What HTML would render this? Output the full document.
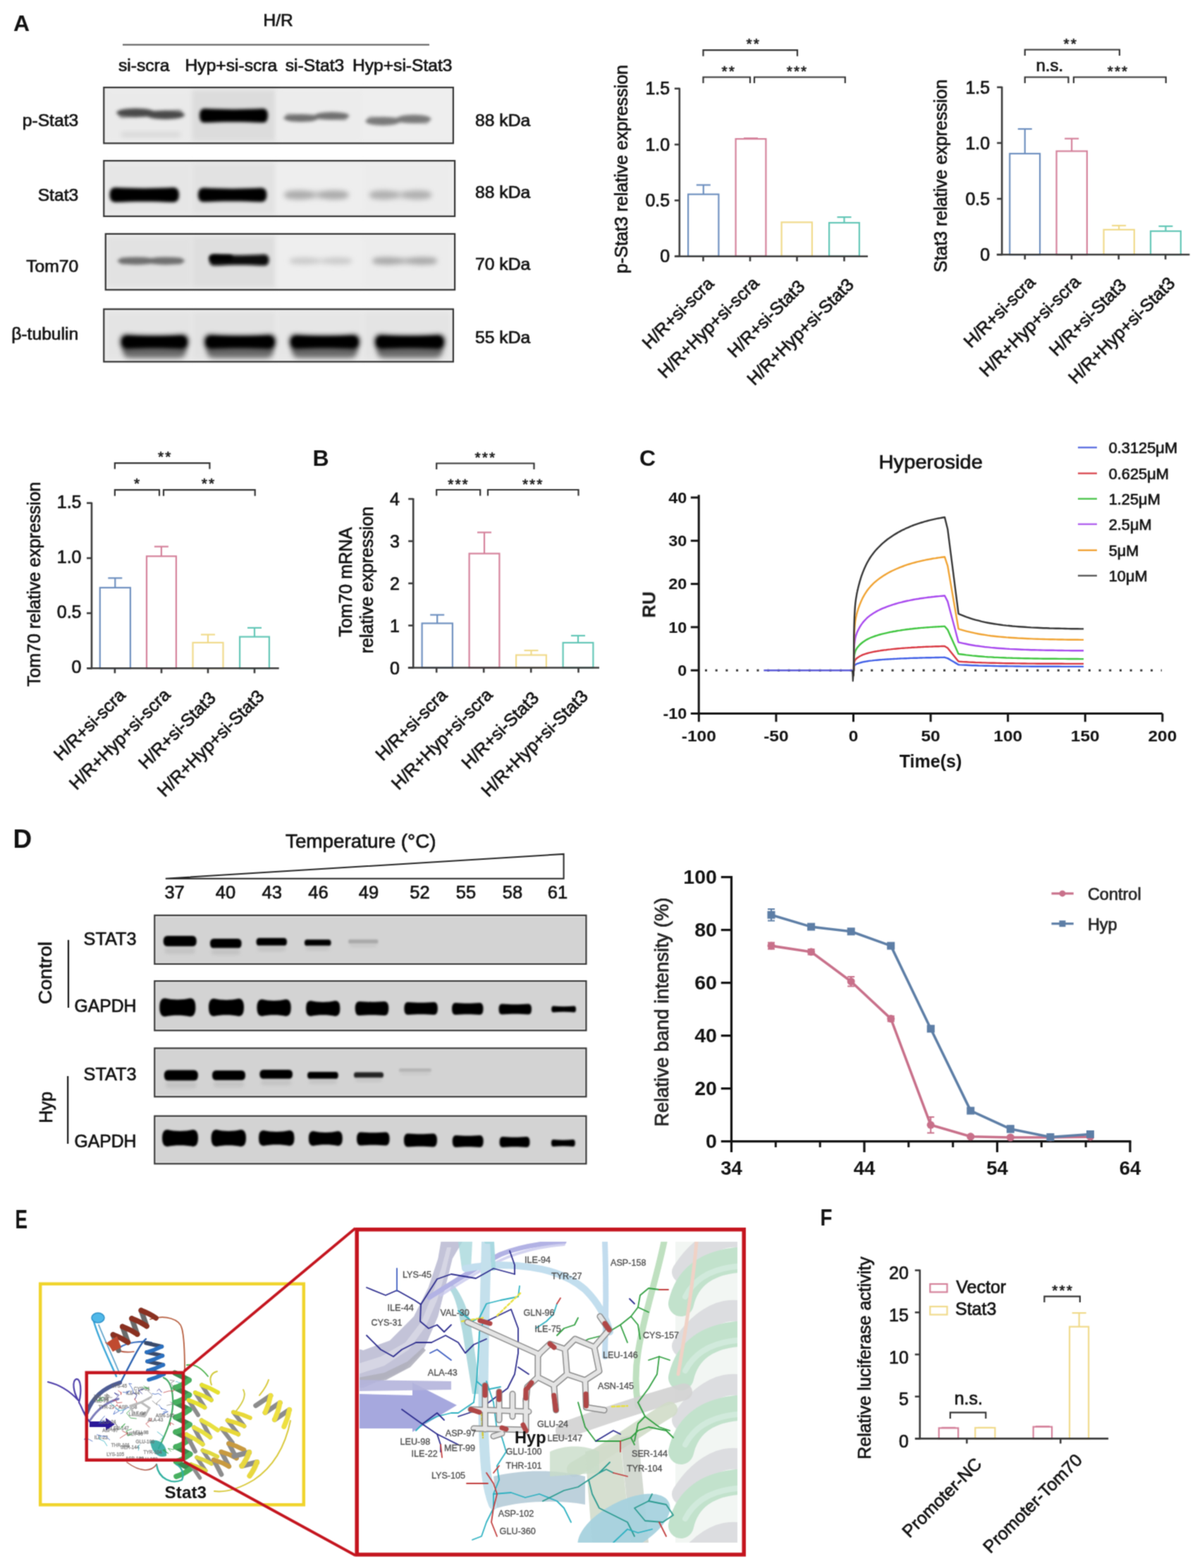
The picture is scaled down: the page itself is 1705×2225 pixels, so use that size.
<!DOCTYPE html>
<html><head><meta charset="utf-8"><title>Figure</title>
<style>
html,body{margin:0;padding:0;background:#fff;}
svg{display:block;}
text{font-family:"Liberation Sans", Arial, sans-serif;}
</style></head><body>
<svg width="1705" height="2225" viewBox="0 0 1705 2225">
<defs>
<filter id="soft" x="0" y="0" width="1705" height="2225" filterUnits="userSpaceOnUse" color-interpolation-filters="sRGB"><feConvolveMatrix order="3" kernelMatrix="0.04 0.12 0.04 0.12 0.36 0.12 0.04 0.12 0.04" edgeMode="duplicate"/></filter>
<filter id="b1" x="-20%" y="-50%" width="140%" height="200%"><feGaussianBlur stdDeviation="1.2"/></filter>
<filter id="b2" x="-20%" y="-60%" width="140%" height="220%"><feGaussianBlur stdDeviation="2.2"/></filter>
<filter id="b3" x="-20%" y="-80%" width="140%" height="260%"><feGaussianBlur stdDeviation="3.5"/></filter>
<filter id="b6" x="-30%" y="-80%" width="160%" height="260%"><feGaussianBlur stdDeviation="6"/></filter>
</defs>
<rect width="1705" height="2225" fill="#fff"/>
<g filter="url(#soft)">
<line x1="997.8" y1="275.7" x2="997.8" y2="262.5" stroke="#6d8fbf" stroke-width="2.2"/>
<line x1="987.8" y1="262.5" x2="1007.8" y2="262.5" stroke="#6d8fbf" stroke-width="2.2"/>
<rect x="976.1" y="275.7" width="43.3" height="88.1" fill="none" stroke="#6d8fbf" stroke-width="2.2"/>
<line x1="1065.0" y1="197.1" x2="1065.0" y2="196.2" stroke="#d4809a" stroke-width="2.2"/>
<line x1="1055.0" y1="196.2" x2="1075.0" y2="196.2" stroke="#d4809a" stroke-width="2.2"/>
<rect x="1043.6" y="197.1" width="42.8" height="166.6" fill="none" stroke="#d4809a" stroke-width="2.2"/>
<rect x="1108.6" y="315.4" width="43.3" height="48.4" fill="none" stroke="#f0da8a" stroke-width="2.2"/>
<line x1="1197.5" y1="316.1" x2="1197.5" y2="308.1" stroke="#62c6b6" stroke-width="2.2"/>
<line x1="1187.5" y1="308.1" x2="1207.5" y2="308.1" stroke="#62c6b6" stroke-width="2.2"/>
<rect x="1176.1" y="316.1" width="42.8" height="47.6" fill="none" stroke="#62c6b6" stroke-width="2.2"/>
<line x1="963.8" y1="124.7" x2="963.8" y2="364.8" stroke="#3a3a3a" stroke-width="2.6"/>
<line x1="957.5" y1="363.8" x2="1231.0" y2="363.8" stroke="#3a3a3a" stroke-width="2.6"/>
<line x1="956.8" y1="363.8" x2="963.8" y2="363.8" stroke="#3a3a3a" stroke-width="2.6"/>
<text x="950.2" y="372.2" font-size="25" text-anchor="end" fill="#111" stroke="#111" stroke-width="0.7">0</text>
<line x1="956.8" y1="284.4" x2="963.8" y2="284.4" stroke="#3a3a3a" stroke-width="2.6"/>
<text x="950.2" y="292.9" font-size="25" text-anchor="end" fill="#111" stroke="#111" stroke-width="0.7">0.5</text>
<line x1="956.8" y1="205.1" x2="963.8" y2="205.1" stroke="#3a3a3a" stroke-width="2.6"/>
<text x="950.2" y="213.6" font-size="25" text-anchor="end" fill="#111" stroke="#111" stroke-width="0.7">1.0</text>
<line x1="956.8" y1="125.7" x2="963.8" y2="125.7" stroke="#3a3a3a" stroke-width="2.6"/>
<text x="950.2" y="134.2" font-size="25" text-anchor="end" fill="#111" stroke="#111" stroke-width="0.7">1.5</text>
<line x1="997.5" y1="363.8" x2="997.5" y2="370.8" stroke="#3a3a3a" stroke-width="2.6"/>
<line x1="1064.0" y1="363.8" x2="1064.0" y2="370.8" stroke="#3a3a3a" stroke-width="2.6"/>
<line x1="1130.5" y1="363.8" x2="1130.5" y2="370.8" stroke="#3a3a3a" stroke-width="2.6"/>
<line x1="1197.5" y1="363.8" x2="1197.5" y2="370.8" stroke="#3a3a3a" stroke-width="2.6"/>
<polyline points="997.5,79.8 997.5,71.2 1131.0,71.2 1131.0,79.8" fill="none" stroke="#333" stroke-width="2.2"/>
<text x="1068.8" y="69.0" font-size="21" text-anchor="middle" fill="#222" stroke="#222" stroke-width="0.7" letter-spacing="2">**</text>
<polyline points="997.5,118.0 997.5,109.5 1064.0,109.5 1064.0,118.0" fill="none" stroke="#333" stroke-width="2.2"/>
<text x="1033.8" y="107.5" font-size="21" text-anchor="middle" fill="#222" stroke="#222" stroke-width="0.7" letter-spacing="2">**</text>
<polyline points="1070.0,118.0 1070.0,109.5 1198.8,109.5 1198.8,118.0" fill="none" stroke="#333" stroke-width="2.2"/>
<text x="1131.0" y="107.5" font-size="21" text-anchor="middle" fill="#222" stroke="#222" stroke-width="0.7" letter-spacing="2">***</text>
<text x="890.0" y="240.0" font-size="25" text-anchor="middle" fill="#111" stroke="#111" stroke-width="0.7" transform="rotate(-90 890.0 240.0)">p-Stat3 relative expression</text>
<text x="1014.0" y="404.0" font-size="25" text-anchor="end" fill="#111" stroke="#111" stroke-width="0.7" transform="rotate(-45 1014.0 404.0)">H/R+si-scra</text>
<text x="1078.0" y="403.5" font-size="25" text-anchor="end" fill="#111" stroke="#111" stroke-width="0.7" transform="rotate(-45 1078.0 403.5)">H/R+Hyp+si-scra</text>
<text x="1143.0" y="408.0" font-size="25" text-anchor="end" fill="#111" stroke="#111" stroke-width="0.7" transform="rotate(-45 1143.0 408.0)">H/R+si-Stat3</text>
<text x="1212.5" y="405.5" font-size="25" text-anchor="end" fill="#111" stroke="#111" stroke-width="0.7" transform="rotate(-45 1212.5 405.5)">H/R+Hyp+si-Stat3</text>
<line x1="1453.8" y1="218.0" x2="1453.8" y2="183.0" stroke="#6d8fbf" stroke-width="2.2"/>
<line x1="1443.8" y1="183.0" x2="1463.8" y2="183.0" stroke="#6d8fbf" stroke-width="2.2"/>
<rect x="1432.3" y="218.0" width="42.8" height="143.3" fill="none" stroke="#6d8fbf" stroke-width="2.2"/>
<line x1="1520.2" y1="214.5" x2="1520.2" y2="196.7" stroke="#d4809a" stroke-width="2.2"/>
<line x1="1510.2" y1="196.7" x2="1530.2" y2="196.7" stroke="#d4809a" stroke-width="2.2"/>
<rect x="1498.6" y="214.5" width="43.3" height="146.8" fill="none" stroke="#d4809a" stroke-width="2.2"/>
<line x1="1587.2" y1="325.9" x2="1587.2" y2="320.1" stroke="#f0da8a" stroke-width="2.2"/>
<line x1="1577.2" y1="320.1" x2="1597.2" y2="320.1" stroke="#f0da8a" stroke-width="2.2"/>
<rect x="1565.6" y="325.9" width="43.3" height="35.3" fill="none" stroke="#f0da8a" stroke-width="2.2"/>
<line x1="1653.5" y1="328.0" x2="1653.5" y2="321.0" stroke="#62c6b6" stroke-width="2.2"/>
<line x1="1643.5" y1="321.0" x2="1663.5" y2="321.0" stroke="#62c6b6" stroke-width="2.2"/>
<rect x="1632.1" y="328.0" width="42.8" height="33.2" fill="none" stroke="#62c6b6" stroke-width="2.2"/>
<line x1="1421.2" y1="122.8" x2="1421.2" y2="362.2" stroke="#3a3a3a" stroke-width="2.6"/>
<line x1="1413.8" y1="361.2" x2="1687.5" y2="361.2" stroke="#3a3a3a" stroke-width="2.6"/>
<line x1="1414.2" y1="361.2" x2="1421.2" y2="361.2" stroke="#3a3a3a" stroke-width="2.6"/>
<text x="1404.2" y="370.2" font-size="25" text-anchor="end" fill="#111" stroke="#111" stroke-width="0.7">0</text>
<line x1="1414.2" y1="282.1" x2="1421.2" y2="282.1" stroke="#3a3a3a" stroke-width="2.6"/>
<text x="1404.2" y="291.1" font-size="25" text-anchor="end" fill="#111" stroke="#111" stroke-width="0.7">0.5</text>
<line x1="1414.2" y1="202.9" x2="1421.2" y2="202.9" stroke="#3a3a3a" stroke-width="2.6"/>
<text x="1404.2" y="211.9" font-size="25" text-anchor="end" fill="#111" stroke="#111" stroke-width="0.7">1.0</text>
<line x1="1414.2" y1="123.8" x2="1421.2" y2="123.8" stroke="#3a3a3a" stroke-width="2.6"/>
<text x="1404.2" y="132.8" font-size="25" text-anchor="end" fill="#111" stroke="#111" stroke-width="0.7">1.5</text>
<line x1="1453.8" y1="361.2" x2="1453.8" y2="368.2" stroke="#3a3a3a" stroke-width="2.6"/>
<line x1="1520.0" y1="361.2" x2="1520.0" y2="368.2" stroke="#3a3a3a" stroke-width="2.6"/>
<line x1="1586.8" y1="361.2" x2="1586.8" y2="368.2" stroke="#3a3a3a" stroke-width="2.6"/>
<line x1="1653.2" y1="361.2" x2="1653.2" y2="368.2" stroke="#3a3a3a" stroke-width="2.6"/>
<polyline points="1453.8,79.0 1453.8,70.5 1588.0,70.5 1588.0,79.0" fill="none" stroke="#333" stroke-width="2.2"/>
<text x="1518.8" y="69.0" font-size="21" text-anchor="middle" fill="#222" stroke="#222" stroke-width="0.7" letter-spacing="2">**</text>
<polyline points="1453.8,118.0 1453.8,109.5 1515.5,109.5 1515.5,118.0" fill="none" stroke="#333" stroke-width="2.2"/>
<text x="1488.8" y="101.0" font-size="24" text-anchor="middle" fill="#111" stroke="#111" stroke-width="0.7">n.s.</text>
<polyline points="1523.0,118.0 1523.0,109.5 1653.8,109.5 1653.8,118.0" fill="none" stroke="#333" stroke-width="2.2"/>
<text x="1586.0" y="107.5" font-size="21" text-anchor="middle" fill="#222" stroke="#222" stroke-width="0.7" letter-spacing="2">***</text>
<text x="1342.5" y="249.5" font-size="25" text-anchor="middle" fill="#111" stroke="#111" stroke-width="0.7" transform="rotate(-90 1342.5 249.5)">Stat3 relative expression</text>
<text x="1470.2" y="402.0" font-size="25" text-anchor="end" fill="#111" stroke="#111" stroke-width="0.7" transform="rotate(-45 1470.2 402.0)">H/R+si-scra</text>
<text x="1534.0" y="401.5" font-size="25" text-anchor="end" fill="#111" stroke="#111" stroke-width="0.7" transform="rotate(-45 1534.0 401.5)">H/R+Hyp+si-scra</text>
<text x="1599.2" y="406.0" font-size="25" text-anchor="end" fill="#111" stroke="#111" stroke-width="0.7" transform="rotate(-45 1599.2 406.0)">H/R+si-Stat3</text>
<text x="1668.2" y="403.5" font-size="25" text-anchor="end" fill="#111" stroke="#111" stroke-width="0.7" transform="rotate(-45 1668.2 403.5)">H/R+Hyp+si-Stat3</text>
<line x1="163.3" y1="833.9" x2="163.3" y2="820.3" stroke="#6d8fbf" stroke-width="2.2"/>
<line x1="153.3" y1="820.3" x2="173.3" y2="820.3" stroke="#6d8fbf" stroke-width="2.2"/>
<rect x="141.8" y="833.9" width="43.1" height="114.4" fill="none" stroke="#6d8fbf" stroke-width="2.2"/>
<line x1="228.9" y1="789.3" x2="228.9" y2="775.6" stroke="#d4809a" stroke-width="2.2"/>
<line x1="218.9" y1="775.6" x2="238.9" y2="775.6" stroke="#d4809a" stroke-width="2.2"/>
<rect x="208.0" y="789.3" width="41.9" height="159.0" fill="none" stroke="#d4809a" stroke-width="2.2"/>
<line x1="295.0" y1="911.9" x2="295.0" y2="900.5" stroke="#f0da8a" stroke-width="2.2"/>
<line x1="285.0" y1="900.5" x2="305.0" y2="900.5" stroke="#f0da8a" stroke-width="2.2"/>
<rect x="273.5" y="911.9" width="43.0" height="36.4" fill="none" stroke="#f0da8a" stroke-width="2.2"/>
<line x1="361.0" y1="903.6" x2="361.0" y2="890.9" stroke="#62c6b6" stroke-width="2.2"/>
<line x1="351.0" y1="890.9" x2="371.0" y2="890.9" stroke="#62c6b6" stroke-width="2.2"/>
<rect x="340.1" y="903.6" width="41.8" height="44.7" fill="none" stroke="#62c6b6" stroke-width="2.2"/>
<line x1="130.0" y1="712.8" x2="130.0" y2="949.3" stroke="#3a3a3a" stroke-width="2.6"/>
<line x1="124.3" y1="948.3" x2="395.7" y2="948.3" stroke="#3a3a3a" stroke-width="2.6"/>
<line x1="123.0" y1="948.3" x2="130.0" y2="948.3" stroke="#3a3a3a" stroke-width="2.6"/>
<text x="115.5" y="955.3" font-size="25" text-anchor="end" fill="#111" stroke="#111" stroke-width="0.7">0</text>
<line x1="123.0" y1="870.1" x2="130.0" y2="870.1" stroke="#3a3a3a" stroke-width="2.6"/>
<text x="115.5" y="877.1" font-size="25" text-anchor="end" fill="#111" stroke="#111" stroke-width="0.7">0.5</text>
<line x1="123.0" y1="792.0" x2="130.0" y2="792.0" stroke="#3a3a3a" stroke-width="2.6"/>
<text x="115.5" y="799.0" font-size="25" text-anchor="end" fill="#111" stroke="#111" stroke-width="0.7">1.0</text>
<line x1="123.0" y1="713.8" x2="130.0" y2="713.8" stroke="#3a3a3a" stroke-width="2.6"/>
<text x="115.5" y="720.8" font-size="25" text-anchor="end" fill="#111" stroke="#111" stroke-width="0.7">1.5</text>
<line x1="162.9" y1="948.3" x2="162.9" y2="955.3" stroke="#3a3a3a" stroke-width="2.6"/>
<line x1="229.0" y1="948.3" x2="229.0" y2="955.3" stroke="#3a3a3a" stroke-width="2.6"/>
<line x1="295.0" y1="948.3" x2="295.0" y2="955.3" stroke="#3a3a3a" stroke-width="2.6"/>
<line x1="361.0" y1="948.3" x2="361.0" y2="955.3" stroke="#3a3a3a" stroke-width="2.6"/>
<polyline points="162.9,665.6 162.9,657.1 297.4,657.1 297.4,665.6" fill="none" stroke="#333" stroke-width="2.2"/>
<text x="234.3" y="655.0" font-size="21" text-anchor="middle" fill="#222" stroke="#222" stroke-width="0.7" letter-spacing="2">**</text>
<polyline points="162.9,703.7 162.9,695.2 226.0,695.2 226.0,703.7" fill="none" stroke="#333" stroke-width="2.2"/>
<text x="195.0" y="693.0" font-size="21" text-anchor="middle" fill="#222" stroke="#222" stroke-width="0.7" letter-spacing="2">*</text>
<polyline points="232.0,703.7 232.0,695.2 361.7,695.2 361.7,703.7" fill="none" stroke="#333" stroke-width="2.2"/>
<text x="296.0" y="693.0" font-size="21" text-anchor="middle" fill="#222" stroke="#222" stroke-width="0.7" letter-spacing="2">**</text>
<text x="57.0" y="829.0" font-size="25" text-anchor="middle" fill="#111" stroke="#111" stroke-width="0.7" transform="rotate(-90 57.0 829.0)">Tom70 relative expression</text>
<text x="179.4" y="988.0" font-size="25" text-anchor="end" fill="#111" stroke="#111" stroke-width="0.7" transform="rotate(-45 179.4 988.0)">H/R+si-scra</text>
<text x="243.0" y="987.5" font-size="25" text-anchor="end" fill="#111" stroke="#111" stroke-width="0.7" transform="rotate(-45 243.0 987.5)">H/R+Hyp+si-scra</text>
<text x="307.5" y="992.0" font-size="25" text-anchor="end" fill="#111" stroke="#111" stroke-width="0.7" transform="rotate(-45 307.5 992.0)">H/R+si-Stat3</text>
<text x="376.0" y="989.5" font-size="25" text-anchor="end" fill="#111" stroke="#111" stroke-width="0.7" transform="rotate(-45 376.0 989.5)">H/R+Hyp+si-Stat3</text>
<line x1="620.2" y1="884.5" x2="620.2" y2="872.5" stroke="#6d8fbf" stroke-width="2.2"/>
<line x1="610.2" y1="872.5" x2="630.2" y2="872.5" stroke="#6d8fbf" stroke-width="2.2"/>
<rect x="598.6" y="884.5" width="43.3" height="63.0" fill="none" stroke="#6d8fbf" stroke-width="2.2"/>
<line x1="687.0" y1="785.5" x2="687.0" y2="755.5" stroke="#d4809a" stroke-width="2.2"/>
<line x1="677.0" y1="755.5" x2="697.0" y2="755.5" stroke="#d4809a" stroke-width="2.2"/>
<rect x="665.6" y="785.5" width="42.8" height="162.0" fill="none" stroke="#d4809a" stroke-width="2.2"/>
<line x1="753.5" y1="929.5" x2="753.5" y2="923.0" stroke="#f0da8a" stroke-width="2.2"/>
<line x1="743.5" y1="923.0" x2="763.5" y2="923.0" stroke="#f0da8a" stroke-width="2.2"/>
<rect x="732.1" y="929.5" width="42.8" height="18.0" fill="none" stroke="#f0da8a" stroke-width="2.2"/>
<line x1="820.0" y1="912.0" x2="820.0" y2="902.0" stroke="#62c6b6" stroke-width="2.2"/>
<line x1="810.0" y1="902.0" x2="830.0" y2="902.0" stroke="#62c6b6" stroke-width="2.2"/>
<rect x="798.6" y="912.0" width="42.8" height="35.5" fill="none" stroke="#62c6b6" stroke-width="2.2"/>
<line x1="586.2" y1="707.0" x2="586.2" y2="948.5" stroke="#3a3a3a" stroke-width="2.6"/>
<line x1="578.8" y1="947.5" x2="850.0" y2="947.5" stroke="#3a3a3a" stroke-width="2.6"/>
<line x1="579.2" y1="947.5" x2="586.2" y2="947.5" stroke="#3a3a3a" stroke-width="2.6"/>
<text x="566.8" y="956.5" font-size="25" text-anchor="end" fill="#111" stroke="#111" stroke-width="0.7">0</text>
<line x1="579.2" y1="887.6" x2="586.2" y2="887.6" stroke="#3a3a3a" stroke-width="2.6"/>
<text x="566.8" y="896.6" font-size="25" text-anchor="end" fill="#111" stroke="#111" stroke-width="0.7">1</text>
<line x1="579.2" y1="827.8" x2="586.2" y2="827.8" stroke="#3a3a3a" stroke-width="2.6"/>
<text x="566.8" y="836.8" font-size="25" text-anchor="end" fill="#111" stroke="#111" stroke-width="0.7">2</text>
<line x1="579.2" y1="767.9" x2="586.2" y2="767.9" stroke="#3a3a3a" stroke-width="2.6"/>
<text x="566.8" y="776.9" font-size="25" text-anchor="end" fill="#111" stroke="#111" stroke-width="0.7">3</text>
<line x1="579.2" y1="708.0" x2="586.2" y2="708.0" stroke="#3a3a3a" stroke-width="2.6"/>
<text x="566.8" y="717.0" font-size="25" text-anchor="end" fill="#111" stroke="#111" stroke-width="0.7">4</text>
<line x1="619.2" y1="947.5" x2="619.2" y2="954.5" stroke="#3a3a3a" stroke-width="2.6"/>
<line x1="686.2" y1="947.5" x2="686.2" y2="954.5" stroke="#3a3a3a" stroke-width="2.6"/>
<line x1="753.2" y1="947.5" x2="753.2" y2="954.5" stroke="#3a3a3a" stroke-width="2.6"/>
<line x1="820.5" y1="947.5" x2="820.5" y2="954.5" stroke="#3a3a3a" stroke-width="2.6"/>
<polyline points="619.2,666.0 619.2,657.5 757.5,657.5 757.5,666.0" fill="none" stroke="#333" stroke-width="2.2"/>
<text x="688.8" y="656.0" font-size="21" text-anchor="middle" fill="#222" stroke="#222" stroke-width="0.7" letter-spacing="2">***</text>
<polyline points="619.2,703.5 619.2,695.0 681.2,695.0 681.2,703.5" fill="none" stroke="#333" stroke-width="2.2"/>
<text x="650.5" y="694.0" font-size="21" text-anchor="middle" fill="#222" stroke="#222" stroke-width="0.7" letter-spacing="2">***</text>
<polyline points="692.0,703.5 692.0,695.0 820.5,695.0 820.5,703.5" fill="none" stroke="#333" stroke-width="2.2"/>
<text x="756.2" y="694.0" font-size="21" text-anchor="middle" fill="#222" stroke="#222" stroke-width="0.7" letter-spacing="2">***</text>
<text x="499.0" y="826.0" font-size="25" text-anchor="middle" fill="#111" stroke="#111" stroke-width="0.7" transform="rotate(-90 499.0 826.0)">Tom70 mRNA</text>
<text x="529.0" y="823.0" font-size="25" text-anchor="middle" fill="#111" stroke="#111" stroke-width="0.7" transform="rotate(-90 529.0 823.0)">relative expression</text>
<text x="635.8" y="988.0" font-size="25" text-anchor="end" fill="#111" stroke="#111" stroke-width="0.7" transform="rotate(-45 635.8 988.0)">H/R+si-scra</text>
<text x="700.2" y="987.5" font-size="25" text-anchor="end" fill="#111" stroke="#111" stroke-width="0.7" transform="rotate(-45 700.2 987.5)">H/R+Hyp+si-scra</text>
<text x="765.8" y="992.0" font-size="25" text-anchor="end" fill="#111" stroke="#111" stroke-width="0.7" transform="rotate(-45 765.8 992.0)">H/R+si-Stat3</text>
<text x="835.5" y="989.5" font-size="25" text-anchor="end" fill="#111" stroke="#111" stroke-width="0.7" transform="rotate(-45 835.5 989.5)">H/R+Hyp+si-Stat3</text>
<line x1="1345.5" y1="2026.4" x2="1345.5" y2="2025.9" stroke="#d4809a" stroke-width="2.2"/>
<line x1="1335.5" y1="2025.9" x2="1355.5" y2="2025.9" stroke="#d4809a" stroke-width="2.2"/>
<rect x="1331.8" y="2026.4" width="27.4" height="15.0" fill="none" stroke="#d4809a" stroke-width="2.2"/>
<line x1="1397.3" y1="2026.0" x2="1397.3" y2="2025.9" stroke="#f0da8a" stroke-width="2.2"/>
<line x1="1387.3" y1="2025.9" x2="1407.3" y2="2025.9" stroke="#f0da8a" stroke-width="2.2"/>
<rect x="1383.3" y="2026.0" width="28.1" height="15.4" fill="none" stroke="#f0da8a" stroke-width="2.2"/>
<line x1="1478.9" y1="2024.6" x2="1478.9" y2="2024.1" stroke="#d4809a" stroke-width="2.2"/>
<line x1="1468.9" y1="2024.1" x2="1488.9" y2="2024.1" stroke="#d4809a" stroke-width="2.2"/>
<rect x="1465.7" y="2024.6" width="26.4" height="16.8" fill="none" stroke="#d4809a" stroke-width="2.2"/>
<line x1="1530.7" y1="1882.6" x2="1530.7" y2="1863.1" stroke="#f0da8a" stroke-width="2.2"/>
<line x1="1520.7" y1="1863.1" x2="1540.7" y2="1863.1" stroke="#f0da8a" stroke-width="2.2"/>
<rect x="1517.1" y="1882.6" width="27.1" height="158.8" fill="none" stroke="#f0da8a" stroke-width="2.2"/>
<line x1="1304.8" y1="1801.6" x2="1304.8" y2="2042.4" stroke="#3a3a3a" stroke-width="2.6"/>
<line x1="1298.0" y1="2041.4" x2="1572.2" y2="2041.4" stroke="#3a3a3a" stroke-width="2.6"/>
<line x1="1297.8" y1="2041.4" x2="1304.8" y2="2041.4" stroke="#3a3a3a" stroke-width="2.6"/>
<text x="1288.8" y="2053.9" font-size="25" text-anchor="end" fill="#111" stroke="#111" stroke-width="0.7">0</text>
<line x1="1297.8" y1="1981.7" x2="1304.8" y2="1981.7" stroke="#3a3a3a" stroke-width="2.6"/>
<text x="1288.8" y="1994.2" font-size="25" text-anchor="end" fill="#111" stroke="#111" stroke-width="0.7">5</text>
<line x1="1297.8" y1="1922.0" x2="1304.8" y2="1922.0" stroke="#3a3a3a" stroke-width="2.6"/>
<text x="1288.8" y="1934.5" font-size="25" text-anchor="end" fill="#111" stroke="#111" stroke-width="0.7">10</text>
<line x1="1297.8" y1="1862.3" x2="1304.8" y2="1862.3" stroke="#3a3a3a" stroke-width="2.6"/>
<text x="1288.8" y="1874.8" font-size="25" text-anchor="end" fill="#111" stroke="#111" stroke-width="0.7">15</text>
<line x1="1297.8" y1="1802.6" x2="1304.8" y2="1802.6" stroke="#3a3a3a" stroke-width="2.6"/>
<text x="1288.8" y="1815.1" font-size="25" text-anchor="end" fill="#111" stroke="#111" stroke-width="0.7">20</text>
<line x1="1371.4" y1="2041.4" x2="1371.4" y2="2048.4" stroke="#3a3a3a" stroke-width="2.6"/>
<line x1="1504.3" y1="2041.4" x2="1504.3" y2="2048.4" stroke="#3a3a3a" stroke-width="2.6"/>
<polyline points="1347.9,2012.9 1347.9,2004.4 1398.3,2004.4 1398.3,2012.9" fill="none" stroke="#333" stroke-width="2.2"/>
<text x="1373.8" y="1992.6" font-size="25" text-anchor="middle" fill="#111" stroke="#111" stroke-width="0.7">n.s.</text>
<polyline points="1481.4,1848.1 1481.4,1839.6 1531.9,1839.6 1531.9,1848.1" fill="none" stroke="#333" stroke-width="2.2"/>
<text x="1507.6" y="1838.0" font-size="21" text-anchor="middle" fill="#222" stroke="#222" stroke-width="0.7" letter-spacing="2">***</text>
<text x="1235.0" y="1927.0" font-size="25" text-anchor="middle" fill="#111" stroke="#111" stroke-width="0.7" transform="rotate(-90 1235.0 1927.0)">Relative luciferase activity</text>
<rect x="1319.3" y="1822" width="24.2" height="11.5" fill="none" stroke="#d4809a" stroke-width="2.2"/>
<rect x="1319.3" y="1854" width="24.2" height="11.5" fill="none" stroke="#f0da8a" stroke-width="2.2"/>
<text x="1356.3" y="1834.5" font-size="25" text-anchor="start" fill="#111" stroke="#111" stroke-width="0.7">Vector</text>
<text x="1355.0" y="1865.8" font-size="25" text-anchor="start" fill="#111" stroke="#111" stroke-width="0.7">Stat3</text>
<text x="1394.1" y="2079.0" font-size="25" text-anchor="end" fill="#111" stroke="#111" stroke-width="0.7" transform="rotate(-45 1394.1 2079.0)">Promoter-NC</text>
<text x="1536.5" y="2073.5" font-size="25" text-anchor="end" fill="#111" stroke="#111" stroke-width="0.7" transform="rotate(-45 1536.5 2073.5)">Promoter-Tom70</text>
<text x="394.6" y="37.0" font-size="24.5" text-anchor="middle" fill="#111" stroke="#111" stroke-width="0.7">H/R</text>
<line x1="174.0" y1="63.5" x2="609.0" y2="63.5" stroke="#555" stroke-width="1.8"/>
<text x="168.0" y="101.3" font-size="24.6" text-anchor="start" fill="#111" stroke="#111" stroke-width="0.7">si-scra</text>
<text x="262.6" y="101.3" font-size="24.6" text-anchor="start" fill="#111" stroke="#111" stroke-width="0.7">Hyp+si-scra</text>
<text x="404.8" y="101.3" font-size="24.6" text-anchor="start" fill="#111" stroke="#111" stroke-width="0.7">si-Stat3</text>
<text x="500.0" y="101.3" font-size="24.6" text-anchor="start" fill="#111" stroke="#111" stroke-width="0.7">Hyp+si-Stat3</text>
<text x="111.3" y="179.4" font-size="24.7" text-anchor="end" fill="#111" stroke="#111" stroke-width="0.7">p-Stat3</text>
<text x="111.3" y="285.3" font-size="24.7" text-anchor="end" fill="#111" stroke="#111" stroke-width="0.7">Stat3</text>
<text x="111.3" y="386.3" font-size="24.7" text-anchor="end" fill="#111" stroke="#111" stroke-width="0.7">Tom70</text>
<text x="111.3" y="482.4" font-size="24.7" text-anchor="end" fill="#111" stroke="#111" stroke-width="0.7">β-tubulin</text>
<text x="674.0" y="179.0" font-size="24.7" text-anchor="start" fill="#111" stroke="#111" stroke-width="0.7">88 kDa</text>
<text x="674.0" y="281.0" font-size="24.7" text-anchor="start" fill="#111" stroke="#111" stroke-width="0.7">88 kDa</text>
<text x="674.0" y="382.5" font-size="24.7" text-anchor="start" fill="#111" stroke="#111" stroke-width="0.7">70 kDa</text>
<text x="674.0" y="486.5" font-size="24.7" text-anchor="start" fill="#111" stroke="#111" stroke-width="0.7">55 kDa</text>
<rect x="146.2" y="123.0" width="497.8" height="81.4" fill="#eeeeee" stroke="none"/>
<rect x="150.0" y="127.0" width="122.0" height="73.4" fill="#eaeaea" filter="url(#b3)"/>
<rect x="272.0" y="127.0" width="120.0" height="73.4" fill="#dcdcdc" filter="url(#b3)"/>
<rect x="392.0" y="127.0" width="123.0" height="73.4" fill="#ececec" filter="url(#b3)"/>
<rect x="515.0" y="127.0" width="125.0" height="73.4" fill="#eeeeee" filter="url(#b3)"/>
<rect x="146.2" y="227.0" width="500.0" height="81.0" fill="#eeeeee" stroke="none"/>
<rect x="150.0" y="231.0" width="122.0" height="73.0" fill="#e6e6e6" filter="url(#b3)"/>
<rect x="272.0" y="231.0" width="120.0" height="73.0" fill="#e2e2e2" filter="url(#b3)"/>
<rect x="392.0" y="231.0" width="123.0" height="73.0" fill="#eeeeee" filter="url(#b3)"/>
<rect x="515.0" y="231.0" width="125.0" height="73.0" fill="#ececec" filter="url(#b3)"/>
<rect x="148.7" y="330.8" width="497.5" height="81.5" fill="#eeeeee" stroke="none"/>
<rect x="150.7" y="334.8" width="121.3" height="73.5" fill="#e2e2e2" filter="url(#b3)"/>
<rect x="272.0" y="334.8" width="120.0" height="73.5" fill="#dedede" filter="url(#b3)"/>
<rect x="392.0" y="334.8" width="123.0" height="73.5" fill="#eeeeee" filter="url(#b3)"/>
<rect x="515.0" y="334.8" width="125.0" height="73.5" fill="#ececec" filter="url(#b3)"/>
<rect x="146.2" y="437.6" width="497.8" height="76.8" fill="#eeeeee" stroke="none"/>
<rect x="150.0" y="441.6" width="122.0" height="68.8" fill="#e4e4e4" filter="url(#b3)"/>
<rect x="272.0" y="441.6" width="120.0" height="68.8" fill="#e2e2e2" filter="url(#b3)"/>
<rect x="392.0" y="441.6" width="123.0" height="68.8" fill="#e6e6e6" filter="url(#b3)"/>
<rect x="515.0" y="441.6" width="125.0" height="68.8" fill="#e4e4e4" filter="url(#b3)"/>
<g filter="url(#b2)">
<path d="M173.9,155.5 C199.9,157.5 227.2,157.5 253.2,155.5 Q259.2,155.5 259.2,161.5 Q259.2,167.5 253.2,167.5 C227.2,165.5 199.9,165.5 173.9,167.5 Q167.9,167.5 167.9,161.5 Q167.9,155.5 173.9,155.5 Z" fill="#909090"/>
<ellipse cx="192.6" cy="160.0" rx="27.4" ry="6.3" fill="#4a4a4a"/>
<ellipse cx="234.5" cy="163.0" rx="27.4" ry="6.3" fill="#4a4a4a"/>
</g>
<path d="M175.0,188.0 C201.4,188.0 226.6,188.0 253.0,188.0 Q256.0,188.0 256.0,191.0 Q256.0,194.0 253.0,194.0 C226.6,194.0 201.4,194.0 175.0,194.0 Q172.0,194.0 172.0,191.0 Q172.0,188.0 175.0,188.0 Z" fill="#d4d4d4" opacity="1.0" filter="url(#b3)"/>
<path d="M290.0,154.0 C316.9,155.5 346.1,155.5 373.0,154.0 Q380.0,154.0 380.0,164.0 Q380.0,174.0 373.0,174.0 C346.1,172.5 316.9,172.5 290.0,174.0 Q283.0,174.0 283.0,164.0 Q283.0,154.0 290.0,154.0 Z" fill="#000" opacity="1.0" filter="url(#b2)"/>
<g filter="url(#b2)">
<path d="M409.7,161.0 C435.6,163.0 462.1,163.0 488.0,161.0 Q493.0,161.0 493.0,166.0 Q493.0,171.0 488.0,171.0 C462.1,169.0 435.6,169.0 409.7,171.0 Q404.7,171.0 404.7,166.0 Q404.7,161.0 409.7,161.0 Z" fill="#a8a8a8"/>
<ellipse cx="427.0" cy="167.5" rx="24.7" ry="5.5" fill="#707070"/>
<ellipse cx="470.7" cy="164.5" rx="24.7" ry="5.5" fill="#707070"/>
</g>
<g filter="url(#b2)">
<path d="M526.3,164.9 C551.7,166.9 578.1,166.9 603.5,164.9 Q609.0,164.9 609.0,170.4 Q609.0,175.9 603.5,175.9 C578.1,173.9 551.7,173.9 526.3,175.9 Q520.8,175.9 520.8,170.4 Q520.8,164.9 526.3,164.9 Z" fill="#b0b0b0"/>
<ellipse cx="543.0" cy="171.9" rx="24.7" ry="6.1" fill="#7a7a7a"/>
<ellipse cx="586.8" cy="168.9" rx="24.7" ry="6.1" fill="#7a7a7a"/>
</g>
<path d="M163.5,266.1 C190.0,267.6 219.5,267.6 246.0,266.1 Q254.0,266.1 254.0,276.6 Q254.0,287.1 246.0,287.1 C219.5,285.6 190.0,285.6 163.5,287.1 Q155.5,287.1 155.5,276.6 Q155.5,266.1 163.5,266.1 Z" fill="#000" opacity="1.0" filter="url(#b2)"/>
<path d="M288.9,266.6 C315.0,268.1 344.3,268.1 370.4,266.6 Q378.4,266.6 378.4,276.6 Q378.4,286.6 370.4,286.6 C344.3,285.1 315.0,285.1 288.9,286.6 Q280.9,286.6 280.9,276.6 Q280.9,266.6 288.9,266.6 Z" fill="#000" opacity="1.0" filter="url(#b2)"/>
<g filter="url(#b3)">
<path d="M410.7,270.6 C435.6,271.6 462.1,271.6 487.0,270.6 Q493.0,270.6 493.0,276.6 Q493.0,282.6 487.0,282.6 C462.1,281.6 435.6,281.6 410.7,282.6 Q404.7,282.6 404.7,276.6 Q404.7,270.6 410.7,270.6 Z" fill="#c8c8c8"/>
<ellipse cx="424.6" cy="276.6" rx="22.1" ry="6.6" fill="#acacac"/>
<ellipse cx="473.1" cy="276.6" rx="22.1" ry="6.6" fill="#acacac"/>
</g>
<g filter="url(#b3)">
<path d="M531.5,270.6 C555.3,271.6 580.8,271.6 604.6,270.6 Q610.6,270.6 610.6,276.6 Q610.6,282.6 604.6,282.6 C580.8,281.6 555.3,281.6 531.5,282.6 Q525.5,282.6 525.5,276.6 Q525.5,270.6 531.5,270.6 Z" fill="#cacaca"/>
<ellipse cx="544.6" cy="276.6" rx="21.3" ry="6.6" fill="#b0b0b0"/>
<ellipse cx="591.5" cy="276.6" rx="21.3" ry="6.6" fill="#b0b0b0"/>
</g>
<g filter="url(#b2)">
<path d="M174.4,365.2 C200.8,366.2 227.8,366.2 254.2,365.2 Q259.2,365.2 259.2,370.2 Q259.2,375.2 254.2,375.2 C227.8,374.2 200.8,374.2 174.4,375.2 Q169.4,375.2 169.4,370.2 Q169.4,365.2 174.4,365.2 Z" fill="#959595"/>
<ellipse cx="193.6" cy="370.2" rx="26.9" ry="5.5" fill="#707070"/>
<ellipse cx="235.0" cy="370.2" rx="26.9" ry="5.5" fill="#707070"/>
</g>
<path d="M304.0,361.0 C326.6,362.5 351.9,362.5 374.5,361.0 Q381.5,361.0 381.5,369.0 Q381.5,377.0 374.5,377.0 C351.9,375.5 326.6,375.5 304.0,377.0 Q297.0,377.0 297.0,369.0 Q297.0,361.0 304.0,361.0 Z" fill="#080808" opacity="1.0" filter="url(#b2)"/>
<path d="M301.0,362.0 C308.6,362.0 318.4,362.0 326.0,362.0 Q330.0,362.0 330.0,366.0 Q330.0,370.0 326.0,370.0 C318.4,370.0 308.6,370.0 301.0,370.0 Q297.0,370.0 297.0,366.0 Q297.0,362.0 301.0,362.0 Z" fill="#000" opacity="1.0" filter="url(#b2)"/>
<g filter="url(#b3)">
<path d="M416.9,365.7 C442.2,366.7 467.8,366.7 493.1,365.7 Q497.6,365.7 497.6,370.2 Q497.6,374.7 493.1,374.7 C467.8,373.7 442.2,373.7 416.9,374.7 Q412.4,374.7 412.4,370.2 Q412.4,365.7 416.9,365.7 Z" fill="#d8d8d8"/>
<ellipse cx="431.6" cy="370.2" rx="21.3" ry="5.0" fill="#cacaca"/>
<ellipse cx="478.4" cy="370.2" rx="21.3" ry="5.0" fill="#cacaca"/>
</g>
<g filter="url(#b3)">
<path d="M535.0,365.2 C560.9,366.2 587.4,366.2 613.3,365.2 Q618.3,365.2 618.3,370.2 Q618.3,375.2 613.3,375.2 C587.4,374.2 560.9,374.2 535.0,375.2 Q530.0,375.2 530.0,370.2 Q530.0,365.2 535.0,365.2 Z" fill="#bcbcbc"/>
<ellipse cx="549.9" cy="370.2" rx="22.1" ry="5.5" fill="#a8a8a8"/>
<ellipse cx="598.4" cy="370.2" rx="22.1" ry="5.5" fill="#a8a8a8"/>
</g>
<path d="M185.0,486.0 C205.5,486.0 232.5,486.0 253.0,486.0 Q264.0,486.0 264.0,497.0 Q264.0,508.0 253.0,508.0 C232.5,508.0 205.5,508.0 185.0,508.0 Q174.0,508.0 174.0,497.0 Q174.0,486.0 185.0,486.0 Z" fill="#555" opacity="0.85" filter="url(#b3)"/>
<path d="M179.0,475.0 C204.6,477.0 233.4,477.0 259.0,475.0 Q267.0,475.0 267.0,485.0 Q267.0,495.0 259.0,495.0 C233.4,493.0 204.6,493.0 179.0,495.0 Q171.0,495.0 171.0,485.0 Q171.0,475.0 179.0,475.0 Z" fill="#050505" opacity="1.0" filter="url(#b3)"/>
<path d="M181.0,478.0 C205.8,479.0 232.2,479.0 257.0,478.0 Q263.0,478.0 263.0,485.0 Q263.0,492.0 257.0,492.0 C232.2,491.0 205.8,491.0 181.0,492.0 Q175.0,492.0 175.0,485.0 Q175.0,478.0 181.0,478.0 Z" fill="#000" opacity="1.0" filter="url(#b2)"/>
<path d="M304.0,486.0 C326.2,486.0 354.6,486.0 376.8,486.0 Q387.8,486.0 387.8,497.0 Q387.8,508.0 376.8,508.0 C354.6,508.0 326.2,508.0 304.0,508.0 Q293.0,508.0 293.0,497.0 Q293.0,486.0 304.0,486.0 Z" fill="#555" opacity="0.85" filter="url(#b3)"/>
<path d="M298.0,475.0 C325.3,477.0 355.5,477.0 382.8,475.0 Q390.8,475.0 390.8,485.0 Q390.8,495.0 382.8,495.0 C355.5,493.0 325.3,493.0 298.0,495.0 Q290.0,495.0 290.0,485.0 Q290.0,475.0 298.0,475.0 Z" fill="#050505" opacity="1.0" filter="url(#b3)"/>
<path d="M300.0,478.0 C326.5,479.0 354.3,479.0 380.8,478.0 Q386.8,478.0 386.8,485.0 Q386.8,492.0 380.8,492.0 C354.3,491.0 326.5,491.0 300.0,492.0 Q294.0,492.0 294.0,485.0 Q294.0,478.0 300.0,478.0 Z" fill="#000" opacity="1.0" filter="url(#b2)"/>
<path d="M424.9,486.0 C446.5,486.0 474.4,486.0 496.0,486.0 Q507.0,486.0 507.0,497.0 Q507.0,508.0 496.0,508.0 C474.4,508.0 446.5,508.0 424.9,508.0 Q413.9,508.0 413.9,497.0 Q413.9,486.0 424.9,486.0 Z" fill="#555" opacity="0.85" filter="url(#b3)"/>
<path d="M418.9,475.0 C445.6,477.0 475.3,477.0 502.0,475.0 Q510.0,475.0 510.0,485.0 Q510.0,495.0 502.0,495.0 C475.3,493.0 445.6,493.0 418.9,495.0 Q410.9,495.0 410.9,485.0 Q410.9,475.0 418.9,475.0 Z" fill="#050505" opacity="1.0" filter="url(#b3)"/>
<path d="M420.9,478.0 C446.8,479.0 474.1,479.0 500.0,478.0 Q506.0,478.0 506.0,485.0 Q506.0,492.0 500.0,492.0 C474.1,491.0 446.8,491.0 420.9,492.0 Q414.9,492.0 414.9,485.0 Q414.9,478.0 420.9,478.0 Z" fill="#000" opacity="1.0" filter="url(#b2)"/>
<path d="M545.6,486.0 C567.2,486.0 595.1,486.0 616.7,486.0 Q627.7,486.0 627.7,497.0 Q627.7,508.0 616.7,508.0 C595.1,508.0 567.2,508.0 545.6,508.0 Q534.6,508.0 534.6,497.0 Q534.6,486.0 545.6,486.0 Z" fill="#555" opacity="0.85" filter="url(#b3)"/>
<path d="M539.6,475.0 C566.3,477.0 596.0,477.0 622.7,475.0 Q630.7,475.0 630.7,485.0 Q630.7,495.0 622.7,495.0 C596.0,493.0 566.3,493.0 539.6,495.0 Q531.6,495.0 531.6,485.0 Q531.6,475.0 539.6,475.0 Z" fill="#050505" opacity="1.0" filter="url(#b3)"/>
<path d="M541.6,478.0 C567.5,479.0 594.8,479.0 620.7,478.0 Q626.7,478.0 626.7,485.0 Q626.7,492.0 620.7,492.0 C594.8,491.0 567.5,491.0 541.6,492.0 Q535.6,492.0 535.6,485.0 Q535.6,478.0 541.6,478.0 Z" fill="#000" opacity="1.0" filter="url(#b2)"/>
<rect x="147.3" y="124.1" width="495.6" height="79.2" fill="none" stroke="#333" stroke-width="2.2"/>
<rect x="147.3" y="228.1" width="497.8" height="78.8" fill="none" stroke="#333" stroke-width="2.2"/>
<rect x="149.8" y="331.9" width="495.3" height="79.3" fill="none" stroke="#333" stroke-width="2.2"/>
<rect x="147.3" y="438.7" width="495.6" height="74.6" fill="none" stroke="#333" stroke-width="2.2"/>
<text x="405.0" y="1203.4" font-size="27.8" text-anchor="start" fill="#111" stroke="#111" stroke-width="0.7" textLength="213.6" lengthAdjust="spacingAndGlyphs">Temperature (°C)</text>
<path d="M234.8,1246.7 L799.6,1246.7 L799.6,1211.9 Z" fill="none" stroke="#222" stroke-width="2"/>
<text x="247.6" y="1274.6" font-size="25.5" text-anchor="middle" fill="#111" stroke="#111" stroke-width="0.7">37</text>
<text x="320.0" y="1274.6" font-size="25.5" text-anchor="middle" fill="#111" stroke="#111" stroke-width="0.7">40</text>
<text x="385.7" y="1274.6" font-size="25.5" text-anchor="middle" fill="#111" stroke="#111" stroke-width="0.7">43</text>
<text x="451.4" y="1274.6" font-size="25.5" text-anchor="middle" fill="#111" stroke="#111" stroke-width="0.7">46</text>
<text x="523.0" y="1274.6" font-size="25.5" text-anchor="middle" fill="#111" stroke="#111" stroke-width="0.7">49</text>
<text x="595.4" y="1274.6" font-size="25.5" text-anchor="middle" fill="#111" stroke="#111" stroke-width="0.7">52</text>
<text x="661.0" y="1274.6" font-size="25.5" text-anchor="middle" fill="#111" stroke="#111" stroke-width="0.7">55</text>
<text x="727.0" y="1274.6" font-size="25.5" text-anchor="middle" fill="#111" stroke="#111" stroke-width="0.7">58</text>
<text x="791.0" y="1274.6" font-size="25.5" text-anchor="middle" fill="#111" stroke="#111" stroke-width="0.7">61</text>
<rect x="218.2" y="1297.8" width="614.3" height="71.2" fill="#d3d3d3" stroke="none"/>
<rect x="220.7" y="1300.3" width="609.3" height="66.2" fill="none" stroke="#ececec" stroke-width="1.5"/>
<rect x="218.2" y="1391.0" width="614.3" height="72.3" fill="#d3d3d3" stroke="none"/>
<rect x="220.7" y="1393.5" width="609.3" height="67.3" fill="none" stroke="#ececec" stroke-width="1.5"/>
<rect x="218.2" y="1486.4" width="614.3" height="70.9" fill="#d3d3d3" stroke="none"/>
<rect x="220.7" y="1488.9" width="609.3" height="65.9" fill="none" stroke="#ececec" stroke-width="1.5"/>
<rect x="218.2" y="1582.6" width="614.3" height="69.8" fill="#d3d3d3" stroke="none"/>
<rect x="220.7" y="1585.1" width="609.3" height="64.8" fill="none" stroke="#ececec" stroke-width="1.5"/>
<path d="M237.7,1327.9 C248.2,1327.9 262.3,1327.9 272.8,1327.9 Q278.8,1327.9 278.8,1335.4 Q278.8,1342.9 272.8,1342.9 C262.3,1342.9 248.2,1342.9 237.7,1342.9 Q231.7,1342.9 231.7,1335.4 Q231.7,1327.9 237.7,1327.9 Z" fill="#000" opacity="1.0" filter="url(#b1)"/>
<path d="M238.2,1344.4 C248.8,1344.4 261.7,1344.4 272.3,1344.4 Q276.8,1344.4 276.8,1348.9 Q276.8,1353.4 272.3,1353.4 C261.7,1353.4 248.8,1353.4 238.2,1353.4 Q233.7,1353.4 233.7,1348.9 Q233.7,1344.4 238.2,1344.4 Z" fill="#bdbdbd" opacity="0.7" filter="url(#b2)"/>
<path d="M303.4,1332.0 C313.6,1332.0 327.0,1332.0 337.2,1332.0 Q342.6,1332.0 342.6,1338.7 Q342.6,1345.5 337.2,1345.5 C327.0,1345.5 313.6,1345.5 303.4,1345.5 Q298.0,1345.5 298.0,1338.7 Q298.0,1332.0 303.4,1332.0 Z" fill="#000" opacity="1.0" filter="url(#b1)"/>
<path d="M304.1,1346.8 C314.2,1346.8 326.4,1346.8 336.6,1346.8 Q340.6,1346.8 340.6,1350.9 Q340.6,1354.9 336.6,1354.9 C326.4,1354.9 314.2,1354.9 304.1,1354.9 Q300.0,1354.9 300.0,1350.9 Q300.0,1346.8 304.1,1346.8 Z" fill="#bdbdbd" opacity="0.7" filter="url(#b2)"/>
<path d="M367.9,1331.0 C378.7,1331.0 391.8,1331.0 402.6,1331.0 Q407.0,1331.0 407.0,1336.5 Q407.0,1342.0 402.6,1342.0 C391.8,1342.0 378.7,1342.0 367.9,1342.0 Q363.5,1342.0 363.5,1336.5 Q363.5,1331.0 367.9,1331.0 Z" fill="#000" opacity="1.0" filter="url(#b1)"/>
<path d="M368.8,1343.1 C379.3,1343.1 391.2,1343.1 401.7,1343.1 Q405.0,1343.1 405.0,1346.4 Q405.0,1349.7 401.7,1349.7 C391.2,1349.7 379.3,1349.7 368.8,1349.7 Q365.5,1349.7 365.5,1346.4 Q365.5,1343.1 368.8,1343.1 Z" fill="#bdbdbd" opacity="0.7" filter="url(#b2)"/>
<path d="M435.5,1333.2 C445.1,1333.2 456.4,1333.2 466.0,1333.2 Q469.6,1333.2 469.6,1337.7 Q469.6,1342.2 466.0,1342.2 C456.4,1342.2 445.1,1342.2 435.5,1342.2 Q431.9,1342.2 431.9,1337.7 Q431.9,1333.2 435.5,1333.2 Z" fill="#000" opacity="1.0" filter="url(#b1)"/>
<path d="M436.6,1343.1 C445.7,1343.1 455.8,1343.1 464.9,1343.1 Q467.6,1343.1 467.6,1345.8 Q467.6,1348.5 464.9,1348.5 C455.8,1348.5 445.7,1348.5 436.6,1348.5 Q433.9,1348.5 433.9,1345.8 Q433.9,1343.1 436.6,1343.1 Z" fill="#bdbdbd" opacity="0.7" filter="url(#b2)"/>
<path d="M496.4,1333.0 C508.9,1333.0 521.6,1333.0 534.1,1333.0 Q536.5,1333.0 536.5,1336.0 Q536.5,1339.0 534.1,1339.0 C521.6,1339.0 508.9,1339.0 496.4,1339.0 Q494.0,1339.0 494.0,1336.0 Q494.0,1333.0 496.4,1333.0 Z" fill="#aaa" opacity="1.0" filter="url(#b1)"/>
<path d="M497.8,1339.6 C509.5,1339.6 521.0,1339.6 532.7,1339.6 Q534.5,1339.6 534.5,1341.4 Q534.5,1343.2 532.7,1343.2 C521.0,1343.2 509.5,1343.2 497.8,1343.2 Q496.0,1343.2 496.0,1341.4 Q496.0,1339.6 497.8,1339.6 Z" fill="#bdbdbd" opacity="0.7" filter="url(#b2)"/>
<path d="M234.1,1416.5 C244.2,1419.0 259.5,1419.0 269.6,1416.5 Q277.4,1416.5 277.4,1429.5 Q277.4,1442.5 269.6,1442.5 C259.5,1440.0 244.2,1440.0 234.1,1442.5 Q226.3,1442.5 226.3,1429.5 Q226.3,1416.5 234.1,1416.5 Z" fill="#000" opacity="1.0" filter="url(#b1)"/>
<path d="M303.5,1417.0 C313.5,1419.5 328.5,1419.5 338.5,1417.0 Q346.0,1417.0 346.0,1429.5 Q346.0,1442.0 338.5,1442.0 C328.5,1439.5 313.5,1439.5 303.5,1442.0 Q296.0,1442.0 296.0,1429.5 Q296.0,1417.0 303.5,1417.0 Z" fill="#000" opacity="1.0" filter="url(#b1)"/>
<path d="M371.6,1418.0 C381.3,1420.5 395.9,1420.5 405.6,1418.0 Q412.8,1418.0 412.8,1430.0 Q412.8,1442.0 405.6,1442.0 C395.9,1439.5 381.3,1439.5 371.6,1442.0 Q364.4,1442.0 364.4,1430.0 Q364.4,1418.0 371.6,1418.0 Z" fill="#000" opacity="1.0" filter="url(#b1)"/>
<path d="M440.6,1420.0 C450.9,1422.5 465.5,1422.5 475.8,1420.0 Q482.4,1420.0 482.4,1431.0 Q482.4,1442.0 475.8,1442.0 C465.5,1439.5 450.9,1439.5 440.6,1442.0 Q434.0,1442.0 434.0,1431.0 Q434.0,1420.0 440.6,1420.0 Z" fill="#000" opacity="1.0" filter="url(#b1)"/>
<path d="M509.7,1421.0 C520.4,1422.0 534.6,1422.0 545.3,1421.0 Q551.3,1421.0 551.3,1431.0 Q551.3,1441.0 545.3,1441.0 C534.6,1440.0 520.4,1440.0 509.7,1441.0 Q503.7,1441.0 503.7,1431.0 Q503.7,1421.0 509.7,1421.0 Z" fill="#000" opacity="1.0" filter="url(#b1)"/>
<path d="M578.7,1422.0 C590.0,1423.0 604.2,1423.0 615.5,1422.0 Q620.9,1422.0 620.9,1431.0 Q620.9,1440.0 615.5,1440.0 C604.2,1439.0 590.0,1439.0 578.7,1440.0 Q573.3,1440.0 573.3,1431.0 Q573.3,1422.0 578.7,1422.0 Z" fill="#000" opacity="1.0" filter="url(#b1)"/>
<path d="M646.1,1423.0 C656.6,1424.0 669.9,1424.0 680.4,1423.0 Q685.5,1423.0 685.5,1431.5 Q685.5,1440.0 680.4,1440.0 C669.9,1439.0 656.6,1439.0 646.1,1440.0 Q641.0,1440.0 641.0,1431.5 Q641.0,1423.0 646.1,1423.0 Z" fill="#000" opacity="1.0" filter="url(#b1)"/>
<path d="M712.0,1424.5 C723.8,1425.5 737.7,1425.5 749.5,1424.5 Q754.0,1424.5 754.0,1432.0 Q754.0,1439.5 749.5,1439.5 C737.7,1438.5 723.8,1438.5 712.0,1439.5 Q707.5,1439.5 707.5,1432.0 Q707.5,1424.5 712.0,1424.5 Z" fill="#000" opacity="1.0" filter="url(#b1)"/>
<path d="M784.9,1427.5 C794.4,1428.5 804.8,1428.5 814.3,1427.5 Q817.0,1427.5 817.0,1432.0 Q817.0,1436.5 814.3,1436.5 C804.8,1435.5 794.4,1435.5 784.9,1436.5 Q782.2,1436.5 782.2,1432.0 Q782.2,1427.5 784.9,1427.5 Z" fill="#000" opacity="1.0" filter="url(#b1)"/>
<path d="M238.8,1518.4 C249.6,1518.4 264.1,1518.4 274.9,1518.4 Q280.9,1518.4 280.9,1525.9 Q280.9,1533.4 274.9,1533.4 C264.1,1533.4 249.6,1533.4 238.8,1533.4 Q232.8,1533.4 232.8,1525.9 Q232.8,1518.4 238.8,1518.4 Z" fill="#000" opacity="1.0" filter="url(#b1)"/>
<path d="M239.3,1534.9 C250.2,1534.9 263.5,1534.9 274.4,1534.9 Q278.9,1534.9 278.9,1539.4 Q278.9,1543.9 274.4,1543.9 C263.5,1543.9 250.2,1543.9 239.3,1543.9 Q234.8,1543.9 234.8,1539.4 Q234.8,1534.9 239.3,1534.9 Z" fill="#bdbdbd" opacity="0.7" filter="url(#b2)"/>
<path d="M306.6,1518.9 C317.4,1518.9 331.6,1518.9 342.4,1518.9 Q348.0,1518.9 348.0,1525.9 Q348.0,1532.9 342.4,1532.9 C331.6,1532.9 317.4,1532.9 306.6,1532.9 Q301.0,1532.9 301.0,1525.9 Q301.0,1518.9 306.6,1518.9 Z" fill="#000" opacity="1.0" filter="url(#b1)"/>
<path d="M307.2,1534.3 C318.1,1534.3 330.9,1534.3 341.8,1534.3 Q346.0,1534.3 346.0,1538.5 Q346.0,1542.7 341.8,1542.7 C330.9,1542.7 318.1,1542.7 307.2,1542.7 Q303.0,1542.7 303.0,1538.5 Q303.0,1534.3 307.2,1534.3 Z" fill="#bdbdbd" opacity="0.7" filter="url(#b2)"/>
<path d="M373.6,1518.0 C384.7,1518.0 398.7,1518.0 409.8,1518.0 Q415.0,1518.0 415.0,1524.5 Q415.0,1531.0 409.8,1531.0 C398.7,1531.0 384.7,1531.0 373.6,1531.0 Q368.4,1531.0 368.4,1524.5 Q368.4,1518.0 373.6,1518.0 Z" fill="#000" opacity="1.0" filter="url(#b1)"/>
<path d="M374.3,1532.3 C385.3,1532.3 398.1,1532.3 409.1,1532.3 Q413.0,1532.3 413.0,1536.2 Q413.0,1540.1 409.1,1540.1 C398.1,1540.1 385.3,1540.1 374.3,1540.1 Q370.4,1540.1 370.4,1536.2 Q370.4,1532.3 374.3,1532.3 Z" fill="#bdbdbd" opacity="0.7" filter="url(#b2)"/>
<path d="M440.0,1520.9 C451.3,1520.9 464.5,1520.9 475.8,1520.9 Q479.8,1520.9 479.8,1525.9 Q479.8,1530.9 475.8,1530.9 C464.5,1530.9 451.3,1530.9 440.0,1530.9 Q436.0,1530.9 436.0,1525.9 Q436.0,1520.9 440.0,1520.9 Z" fill="#000" opacity="1.0" filter="url(#b1)"/>
<path d="M441.0,1531.9 C451.9,1531.9 463.9,1531.9 474.8,1531.9 Q477.8,1531.9 477.8,1534.9 Q477.8,1537.9 474.8,1537.9 C463.9,1537.9 451.9,1537.9 441.0,1537.9 Q438.0,1537.9 438.0,1534.9 Q438.0,1531.9 441.0,1531.9 Z" fill="#bdbdbd" opacity="0.7" filter="url(#b2)"/>
<path d="M505.2,1521.5 C516.7,1521.5 529.3,1521.5 540.8,1521.5 Q544.0,1521.5 544.0,1525.5 Q544.0,1529.5 540.8,1529.5 C529.3,1529.5 516.7,1529.5 505.2,1529.5 Q502.0,1529.5 502.0,1525.5 Q502.0,1521.5 505.2,1521.5 Z" fill="#222" opacity="1.0" filter="url(#b1)"/>
<path d="M506.4,1530.3 C517.3,1530.3 528.7,1530.3 539.6,1530.3 Q542.0,1530.3 542.0,1532.7 Q542.0,1535.1 539.6,1535.1 C528.7,1535.1 517.3,1535.1 506.4,1535.1 Q504.0,1535.1 504.0,1532.7 Q504.0,1530.3 506.4,1530.3 Z" fill="#bdbdbd" opacity="0.7" filter="url(#b2)"/>
<path d="M567.8,1516.0 C582.0,1516.0 595.8,1516.0 610.0,1516.0 Q612.0,1516.0 612.0,1518.5 Q612.0,1521.0 610.0,1521.0 C595.8,1521.0 582.0,1521.0 567.8,1521.0 Q565.8,1521.0 565.8,1518.5 Q565.8,1516.0 567.8,1516.0 Z" fill="#b5b5b5" opacity="1.0" filter="url(#b1)"/>
<path d="M569.3,1521.5 C582.6,1521.5 595.2,1521.5 608.5,1521.5 Q610.0,1521.5 610.0,1523.0 Q610.0,1524.5 608.5,1524.5 C595.2,1524.5 582.6,1524.5 569.3,1524.5 Q567.8,1524.5 567.8,1523.0 Q567.8,1521.5 569.3,1521.5 Z" fill="#bdbdbd" opacity="0.7" filter="url(#b2)"/>
<path d="M237.2,1603.0 C247.8,1605.5 263.1,1605.5 273.8,1603.0 Q281.0,1603.0 281.0,1615.0 Q281.0,1627.0 273.8,1627.0 C263.1,1624.5 247.8,1624.5 237.2,1627.0 Q230.0,1627.0 230.0,1615.0 Q230.0,1603.0 237.2,1603.0 Z" fill="#000" opacity="1.0" filter="url(#b1)"/>
<path d="M306.8,1603.0 C316.9,1605.5 331.7,1605.5 341.8,1603.0 Q349.0,1603.0 349.0,1615.0 Q349.0,1627.0 341.8,1627.0 C331.7,1624.5 316.9,1624.5 306.8,1627.0 Q299.6,1627.0 299.6,1615.0 Q299.6,1603.0 306.8,1603.0 Z" fill="#000" opacity="1.0" filter="url(#b1)"/>
<path d="M373.6,1604.0 C384.7,1606.5 399.8,1606.5 410.9,1604.0 Q417.5,1604.0 417.5,1615.0 Q417.5,1626.0 410.9,1626.0 C399.8,1623.5 384.7,1623.5 373.6,1626.0 Q367.0,1626.0 367.0,1615.0 Q367.0,1604.0 373.6,1604.0 Z" fill="#000" opacity="1.0" filter="url(#b1)"/>
<path d="M444.1,1605.0 C454.6,1607.5 469.0,1607.5 479.5,1605.0 Q485.8,1605.0 485.8,1615.5 Q485.8,1626.0 479.5,1626.0 C469.0,1623.5 454.6,1623.5 444.1,1626.0 Q437.8,1626.0 437.8,1615.5 Q437.8,1605.0 444.1,1605.0 Z" fill="#000" opacity="1.0" filter="url(#b1)"/>
<path d="M511.7,1606.5 C522.3,1607.5 536.3,1607.5 546.9,1606.5 Q552.6,1606.5 552.6,1616.0 Q552.6,1625.5 546.9,1625.5 C536.3,1624.5 522.3,1624.5 511.7,1625.5 Q506.0,1625.5 506.0,1616.0 Q506.0,1606.5 511.7,1606.5 Z" fill="#000" opacity="1.0" filter="url(#b1)"/>
<path d="M578.6,1608.5 C589.4,1609.5 603.5,1609.5 614.3,1608.5 Q620.0,1608.5 620.0,1618.0 Q620.0,1627.5 614.3,1627.5 C603.5,1626.5 589.4,1626.5 578.6,1627.5 Q572.9,1627.5 572.9,1618.0 Q572.9,1608.5 578.6,1608.5 Z" fill="#000" opacity="1.0" filter="url(#b1)"/>
<path d="M646.8,1611.0 C657.1,1612.0 670.3,1612.0 680.6,1611.0 Q685.7,1611.0 685.7,1619.5 Q685.7,1628.0 680.6,1628.0 C670.3,1627.0 657.1,1627.0 646.8,1628.0 Q641.7,1628.0 641.7,1619.5 Q641.7,1611.0 646.8,1611.0 Z" fill="#000" opacity="1.0" filter="url(#b1)"/>
<path d="M713.0,1613.0 C723.5,1614.0 736.5,1614.0 747.0,1613.0 Q751.5,1613.0 751.5,1620.5 Q751.5,1628.0 747.0,1628.0 C736.5,1627.0 723.5,1627.0 713.0,1628.0 Q708.5,1628.0 708.5,1620.5 Q708.5,1613.0 713.0,1613.0 Z" fill="#000" opacity="1.0" filter="url(#b1)"/>
<path d="M784.9,1617.0 C793.8,1618.0 803.9,1618.0 812.8,1617.0 Q815.8,1617.0 815.8,1622.0 Q815.8,1627.0 812.8,1627.0 C803.9,1626.0 793.8,1626.0 784.9,1627.0 Q781.9,1627.0 781.9,1622.0 Q781.9,1617.0 784.9,1617.0 Z" fill="#000" opacity="1.0" filter="url(#b1)"/>
<rect x="219.3" y="1298.9" width="612.1" height="69.0" fill="none" stroke="#3a3a3a" stroke-width="2.2"/>
<rect x="219.3" y="1392.1" width="612.1" height="70.1" fill="none" stroke="#3a3a3a" stroke-width="2.2"/>
<rect x="219.3" y="1487.5" width="612.1" height="68.7" fill="none" stroke="#3a3a3a" stroke-width="2.2"/>
<rect x="219.3" y="1583.7" width="612.1" height="67.6" fill="none" stroke="#3a3a3a" stroke-width="2.2"/>
<text x="193.5" y="1341.3" font-size="25.3" text-anchor="end" fill="#111" stroke="#111" stroke-width="0.7" textLength="75" lengthAdjust="spacingAndGlyphs">STAT3</text>
<text x="193.5" y="1436.0" font-size="25.3" text-anchor="end" fill="#111" stroke="#111" stroke-width="0.7" textLength="88" lengthAdjust="spacingAndGlyphs">GAPDH</text>
<text x="193.5" y="1532.5" font-size="25.3" text-anchor="end" fill="#111" stroke="#111" stroke-width="0.7" textLength="75" lengthAdjust="spacingAndGlyphs">STAT3</text>
<text x="193.5" y="1628.0" font-size="25.3" text-anchor="end" fill="#111" stroke="#111" stroke-width="0.7" textLength="88" lengthAdjust="spacingAndGlyphs">GAPDH</text>
<line x1="97.0" y1="1333.8" x2="97.0" y2="1430.0" stroke="#111" stroke-width="2.2"/>
<line x1="96.2" y1="1527.0" x2="96.2" y2="1623.0" stroke="#111" stroke-width="2.2"/>
<text x="73.0" y="1380.5" font-size="26" text-anchor="middle" fill="#111" stroke="#111" stroke-width="0.7" transform="rotate(-90 73.0 1380.5)" textLength="89" lengthAdjust="spacingAndGlyphs">Control</text>
<text x="74.5" y="1571.3" font-size="26" text-anchor="middle" fill="#111" stroke="#111" stroke-width="0.7" transform="rotate(-90 74.5 1571.3)" textLength="45" lengthAdjust="spacingAndGlyphs">Hyp</text>
<line x1="991.2" y1="702.3" x2="991.2" y2="1013.9" stroke="#111" stroke-width="3"/>
<line x1="989.7" y1="1012.4" x2="1648.8" y2="1012.4" stroke="#111" stroke-width="3"/>
<line x1="979.8" y1="706.0" x2="991.2" y2="706.0" stroke="#111" stroke-width="3"/>
<text x="974.3" y="713.6" font-size="21.5" text-anchor="end" font-weight="bold" fill="#111" textLength="26.1" lengthAdjust="spacingAndGlyphs">40</text>
<line x1="979.8" y1="767.3" x2="991.2" y2="767.3" stroke="#111" stroke-width="3"/>
<text x="974.3" y="774.9" font-size="21.5" text-anchor="end" font-weight="bold" fill="#111" textLength="26.1" lengthAdjust="spacingAndGlyphs">30</text>
<line x1="979.8" y1="828.6" x2="991.2" y2="828.6" stroke="#111" stroke-width="3"/>
<text x="974.3" y="836.2" font-size="21.5" text-anchor="end" font-weight="bold" fill="#111" textLength="26.1" lengthAdjust="spacingAndGlyphs">20</text>
<line x1="979.8" y1="889.9" x2="991.2" y2="889.9" stroke="#111" stroke-width="3"/>
<text x="974.3" y="897.5" font-size="21.5" text-anchor="end" font-weight="bold" fill="#111" textLength="26.1" lengthAdjust="spacingAndGlyphs">10</text>
<line x1="979.8" y1="951.2" x2="991.2" y2="951.2" stroke="#111" stroke-width="3"/>
<text x="974.3" y="958.8" font-size="21.5" text-anchor="end" font-weight="bold" fill="#111" textLength="13.0" lengthAdjust="spacingAndGlyphs">0</text>
<line x1="979.8" y1="1012.5" x2="991.2" y2="1012.5" stroke="#111" stroke-width="3"/>
<text x="974.3" y="1020.1" font-size="21.5" text-anchor="end" font-weight="bold" fill="#111" textLength="33.9" lengthAdjust="spacingAndGlyphs">-10</text>
<line x1="991.3" y1="1012.4" x2="991.3" y2="1024.3" stroke="#111" stroke-width="3"/>
<text x="991.3" y="1051.5" font-size="21.5" text-anchor="middle" font-weight="bold" fill="#111" textLength="49.1" lengthAdjust="spacingAndGlyphs">-100</text>
<line x1="1100.9" y1="1012.4" x2="1100.9" y2="1024.3" stroke="#111" stroke-width="3"/>
<text x="1100.9" y="1051.5" font-size="21.5" text-anchor="middle" font-weight="bold" fill="#111" textLength="35.4" lengthAdjust="spacingAndGlyphs">-50</text>
<line x1="1210.5" y1="1012.4" x2="1210.5" y2="1024.3" stroke="#111" stroke-width="3"/>
<text x="1210.5" y="1051.5" font-size="21.5" text-anchor="middle" font-weight="bold" fill="#111" textLength="13.6" lengthAdjust="spacingAndGlyphs">0</text>
<line x1="1320.1" y1="1012.4" x2="1320.1" y2="1024.3" stroke="#111" stroke-width="3"/>
<text x="1320.1" y="1051.5" font-size="21.5" text-anchor="middle" font-weight="bold" fill="#111" textLength="27.3" lengthAdjust="spacingAndGlyphs">50</text>
<line x1="1429.7" y1="1012.4" x2="1429.7" y2="1024.3" stroke="#111" stroke-width="3"/>
<text x="1429.7" y="1051.5" font-size="21.5" text-anchor="middle" font-weight="bold" fill="#111" textLength="40.9" lengthAdjust="spacingAndGlyphs">100</text>
<line x1="1539.3" y1="1012.4" x2="1539.3" y2="1024.3" stroke="#111" stroke-width="3"/>
<text x="1539.3" y="1051.5" font-size="21.5" text-anchor="middle" font-weight="bold" fill="#111" textLength="40.9" lengthAdjust="spacingAndGlyphs">150</text>
<line x1="1648.9" y1="1012.4" x2="1648.9" y2="1024.3" stroke="#111" stroke-width="3"/>
<text x="1648.9" y="1051.5" font-size="21.5" text-anchor="middle" font-weight="bold" fill="#111" textLength="40.9" lengthAdjust="spacingAndGlyphs">200</text>
<text x="1320.0" y="1089.0" font-size="25" text-anchor="middle" font-weight="bold" fill="#111" textLength="88.7" lengthAdjust="spacingAndGlyphs">Time(s)</text>
<text x="929.5" y="858.0" font-size="26" text-anchor="middle" font-weight="bold" fill="#111" transform="rotate(-90 929.5 858.0)">RU</text>
<text x="1246.6" y="665.0" font-size="27" text-anchor="start" fill="#111" stroke="#111" stroke-width="0.7" textLength="147.3" lengthAdjust="spacingAndGlyphs">Hyperoside</text>
<line x1="1000" y1="951.2" x2="1648" y2="951.2" stroke="#333" stroke-width="3" stroke-dasharray="3 11.7"/>
<polyline points="1209.4,951.2 1210.5,954.3 1211.0,951.2 1211.2,947.3 1211.6,945.7 1212.0,944.7 1212.5,944.1 1212.9,943.5 1213.3,943.2 1213.8,942.9 1214.2,942.6 1214.7,942.4 1215.1,942.1 1215.5,942.0 1216.0,941.8 1216.4,941.6 1216.9,941.4 1217.3,941.3 1219.5,940.6 1221.7,940.0 1223.9,939.4 1226.1,939.0 1228.3,938.6 1230.4,938.2 1232.6,937.9 1234.8,937.6 1237.0,937.4 1239.2,937.1 1241.4,936.9 1243.6,936.7 1245.8,936.5 1248.0,936.3 1250.2,936.1 1252.4,935.9 1254.6,935.8 1256.8,935.6 1258.9,935.5 1261.1,935.4 1263.3,935.2 1265.5,935.1 1267.7,935.0 1269.9,934.9 1272.1,934.8 1274.3,934.6 1276.5,934.5 1278.7,934.4 1280.9,934.4 1283.1,934.3 1285.2,934.2 1287.4,934.1 1289.6,934.0 1291.8,933.9 1294.0,933.9 1296.2,933.8 1298.4,933.7 1300.6,933.7 1302.8,933.6 1305.0,933.5 1307.2,933.5 1309.4,933.4 1311.6,933.4 1313.7,933.3 1315.9,933.3 1318.1,933.2 1320.3,933.2 1322.5,933.1 1324.7,933.1 1326.9,933.0 1329.1,933.0 1331.3,933.0 1333.5,932.9 1335.7,932.9 1337.9,932.9 1340.0,932.8 1344.2,934.1 1346.4,935.4 1348.6,936.7 1350.8,938.0 1353.0,939.3 1355.2,940.6 1357.4,941.9 1359.6,943.2 1361.7,943.4 1366.1,943.6 1370.5,943.8 1374.9,944.0 1379.3,944.2 1383.7,944.3 1388.1,944.5 1392.4,944.6 1396.8,944.7 1401.2,944.8 1405.6,944.9 1410.0,945.0 1414.4,945.1 1418.7,945.2 1423.1,945.3 1427.5,945.3 1431.9,945.4 1436.3,945.4 1440.7,945.5 1445.0,945.5 1449.4,945.6 1453.8,945.6 1458.2,945.6 1462.6,945.7 1467.0,945.7 1471.3,945.7 1475.7,945.7 1480.1,945.8 1484.5,945.8 1488.9,945.8 1493.3,945.8 1497.7,945.8 1502.0,945.8 1506.4,945.9 1510.8,945.9 1515.2,945.9 1519.6,945.9 1524.0,945.9 1528.3,945.9 1532.7,945.9 1537.1,945.9" fill="none" stroke="#3d5ce6" stroke-width="2.4" stroke-linejoin="round"/>
<polyline points="1209.4,951.2 1210.5,954.3 1211.0,951.2 1211.2,943.8 1211.6,941.0 1212.0,939.2 1212.5,937.9 1212.9,936.9 1213.3,936.2 1213.8,935.6 1214.2,935.1 1214.7,934.7 1215.1,934.3 1215.5,933.9 1216.0,933.6 1216.4,933.3 1216.9,933.0 1217.3,932.7 1219.5,931.3 1221.7,930.2 1223.9,929.2 1226.1,928.4 1228.3,927.7 1230.4,927.0 1232.6,926.4 1234.8,925.9 1237.0,925.4 1239.2,924.9 1241.4,924.5 1243.6,924.1 1245.8,923.7 1248.0,923.4 1250.2,923.0 1252.4,922.7 1254.6,922.4 1256.8,922.2 1258.9,921.9 1261.1,921.6 1263.3,921.4 1265.5,921.1 1267.7,920.9 1269.9,920.7 1272.1,920.5 1274.3,920.3 1276.5,920.1 1278.7,919.9 1280.9,919.7 1283.1,919.6 1285.2,919.4 1287.4,919.3 1289.6,919.1 1291.8,919.0 1294.0,918.8 1296.2,918.7 1298.4,918.6 1300.6,918.5 1302.8,918.3 1305.0,918.2 1307.2,918.1 1309.4,918.0 1311.6,917.9 1313.7,917.8 1315.9,917.7 1318.1,917.6 1320.3,917.6 1322.5,917.5 1324.7,917.4 1326.9,917.3 1329.1,917.2 1331.3,917.2 1333.5,917.1 1335.7,917.0 1337.9,917.0 1340.0,916.9 1344.2,919.6 1346.4,922.3 1348.6,925.0 1350.8,927.8 1353.0,930.5 1355.2,933.2 1357.4,935.9 1359.6,938.6 1361.7,938.8 1366.1,939.1 1370.5,939.3 1374.9,939.6 1379.3,939.8 1383.7,940.0 1388.1,940.1 1392.4,940.3 1396.8,940.4 1401.2,940.6 1405.6,940.7 1410.0,940.8 1414.4,940.9 1418.7,941.0 1423.1,941.1 1427.5,941.2 1431.9,941.3 1436.3,941.3 1440.7,941.4 1445.0,941.4 1449.4,941.5 1453.8,941.5 1458.2,941.6 1462.6,941.6 1467.0,941.6 1471.3,941.7 1475.7,941.7 1480.1,941.7 1484.5,941.8 1488.9,941.8 1493.3,941.8 1497.7,941.8 1502.0,941.8 1506.4,941.8 1510.8,941.9 1515.2,941.9 1519.6,941.9 1524.0,941.9 1528.3,941.9 1532.7,941.9 1537.1,941.9" fill="none" stroke="#d8343e" stroke-width="2.4" stroke-linejoin="round"/>
<polyline points="1209.4,951.2 1210.5,954.3 1211.0,951.2 1211.2,937.8 1211.6,932.7 1212.0,929.3 1212.5,926.9 1212.9,925.2 1213.3,923.9 1213.8,922.8 1214.2,921.9 1214.7,921.1 1215.1,920.4 1215.5,919.8 1216.0,919.1 1216.4,918.6 1216.9,918.0 1217.3,917.5 1219.5,915.0 1221.7,913.0 1223.9,911.2 1226.1,909.7 1228.3,908.3 1230.4,907.1 1232.6,906.0 1234.8,905.0 1237.0,904.1 1239.2,903.3 1241.4,902.5 1243.6,901.8 1245.8,901.1 1248.0,900.5 1250.2,899.9 1252.4,899.3 1254.6,898.8 1256.8,898.3 1258.9,897.8 1261.1,897.3 1263.3,896.9 1265.5,896.5 1267.7,896.0 1269.9,895.7 1272.1,895.3 1274.3,894.9 1276.5,894.6 1278.7,894.2 1280.9,893.9 1283.1,893.6 1285.2,893.3 1287.4,893.0 1289.6,892.8 1291.8,892.5 1294.0,892.3 1296.2,892.0 1298.4,891.8 1300.6,891.6 1302.8,891.3 1305.0,891.1 1307.2,890.9 1309.4,890.8 1311.6,890.6 1313.7,890.4 1315.9,890.2 1318.1,890.1 1320.3,889.9 1322.5,889.8 1324.7,889.6 1326.9,889.5 1329.1,889.4 1331.3,889.2 1333.5,889.1 1335.7,889.0 1337.9,888.9 1340.0,888.8 1344.2,893.6 1346.4,898.5 1348.6,903.4 1350.8,908.3 1353.0,913.2 1355.2,918.1 1357.4,923.0 1359.6,927.9 1361.7,928.2 1366.1,928.8 1370.5,929.4 1374.9,929.9 1379.3,930.4 1383.7,930.8 1388.1,931.2 1392.4,931.5 1396.8,931.9 1401.2,932.2 1405.6,932.4 1410.0,932.7 1414.4,932.9 1418.7,933.1 1423.1,933.3 1427.5,933.5 1431.9,933.6 1436.3,933.8 1440.7,933.9 1445.0,934.0 1449.4,934.1 1453.8,934.2 1458.2,934.3 1462.6,934.4 1467.0,934.5 1471.3,934.5 1475.7,934.6 1480.1,934.7 1484.5,934.7 1488.9,934.8 1493.3,934.8 1497.7,934.8 1502.0,934.9 1506.4,934.9 1510.8,934.9 1515.2,935.0 1519.6,935.0 1524.0,935.0 1528.3,935.0 1532.7,935.1 1537.1,935.1" fill="none" stroke="#3cc43c" stroke-width="2.4" stroke-linejoin="round"/>
<polyline points="1209.4,951.2 1210.5,954.3 1211.0,951.2 1211.2,928.4 1211.6,919.8 1212.0,914.0 1212.5,910.0 1212.9,907.1 1213.3,904.9 1213.8,903.1 1214.2,901.5 1214.7,900.2 1215.1,899.0 1215.5,897.9 1216.0,896.8 1216.4,895.8 1216.9,894.9 1217.3,894.0 1219.5,889.9 1221.7,886.4 1223.9,883.4 1226.1,880.8 1228.3,878.5 1230.4,876.4 1232.6,874.6 1234.8,872.9 1237.0,871.4 1239.2,870.0 1241.4,868.7 1243.6,867.4 1245.8,866.3 1248.0,865.2 1250.2,864.2 1252.4,863.2 1254.6,862.3 1256.8,861.5 1258.9,860.6 1261.1,859.8 1263.3,859.1 1265.5,858.3 1267.7,857.7 1269.9,857.0 1272.1,856.3 1274.3,855.7 1276.5,855.1 1278.7,854.6 1280.9,854.0 1283.1,853.5 1285.2,853.0 1287.4,852.5 1289.6,852.1 1291.8,851.6 1294.0,851.2 1296.2,850.8 1298.4,850.4 1300.6,850.0 1302.8,849.7 1305.0,849.3 1307.2,849.0 1309.4,848.7 1311.6,848.4 1313.7,848.1 1315.9,847.8 1318.1,847.5 1320.3,847.3 1322.5,847.0 1324.7,846.8 1326.9,846.5 1329.1,846.3 1331.3,846.1 1333.5,845.9 1335.7,845.7 1337.9,845.5 1340.0,845.3 1344.2,853.4 1346.4,861.7 1348.6,870.0 1350.8,878.3 1353.0,886.5 1355.2,894.8 1357.4,903.1 1359.6,911.4 1361.7,911.9 1366.1,912.9 1370.5,913.8 1374.9,914.7 1379.3,915.5 1383.7,916.2 1388.1,916.8 1392.4,917.4 1396.8,918.0 1401.2,918.4 1405.6,918.9 1410.0,919.3 1414.4,919.7 1418.7,920.0 1423.1,920.3 1427.5,920.6 1431.9,920.9 1436.3,921.1 1440.7,921.3 1445.0,921.5 1449.4,921.7 1453.8,921.9 1458.2,922.0 1462.6,922.2 1467.0,922.3 1471.3,922.4 1475.7,922.5 1480.1,922.6 1484.5,922.7 1488.9,922.8 1493.3,922.8 1497.7,922.9 1502.0,923.0 1506.4,923.0 1510.8,923.1 1515.2,923.1 1519.6,923.2 1524.0,923.2 1528.3,923.2 1532.7,923.3 1537.1,923.3" fill="none" stroke="#a645ee" stroke-width="2.4" stroke-linejoin="round"/>
<polyline points="1209.4,951.2 1210.5,958.6 1211.0,951.2 1211.2,916.6 1211.6,903.4 1212.0,894.6 1212.5,888.5 1212.9,884.1 1213.3,880.7 1213.8,878.0 1214.2,875.7 1214.7,873.7 1215.1,871.8 1215.5,870.1 1216.0,868.5 1216.4,867.0 1216.9,865.6 1217.3,864.2 1219.5,858.0 1221.7,852.7 1223.9,848.1 1226.1,844.1 1228.3,840.6 1230.4,837.5 1232.6,834.7 1234.8,832.2 1237.0,829.9 1239.2,827.7 1241.4,825.7 1243.6,823.9 1245.8,822.1 1248.0,820.5 1250.2,819.0 1252.4,817.5 1254.6,816.1 1256.8,814.8 1258.9,813.5 1261.1,812.3 1263.3,811.1 1265.5,810.0 1267.7,809.0 1269.9,808.0 1272.1,807.0 1274.3,806.1 1276.5,805.2 1278.7,804.3 1280.9,803.5 1283.1,802.7 1285.2,801.9 1287.4,801.2 1289.6,800.5 1291.8,799.8 1294.0,799.2 1296.2,798.6 1298.4,798.0 1300.6,797.4 1302.8,796.9 1305.0,796.3 1307.2,795.8 1309.4,795.3 1311.6,794.9 1313.7,794.4 1315.9,794.0 1318.1,793.6 1320.3,793.2 1322.5,792.8 1324.7,792.4 1326.9,792.1 1329.1,791.7 1331.3,791.4 1333.5,791.1 1335.7,790.8 1337.9,790.5 1340.0,790.2 1344.2,802.8 1346.4,815.6 1348.6,828.4 1350.8,841.2 1353.0,854.0 1355.2,866.8 1357.4,879.6 1359.6,892.4 1361.7,893.1 1366.1,894.4 1370.5,895.6 1374.9,896.7 1379.3,897.7 1383.7,898.6 1388.1,899.5 1392.4,900.2 1396.8,900.9 1401.2,901.6 1405.6,902.2 1410.0,902.7 1414.4,903.2 1418.7,903.6 1423.1,904.0 1427.5,904.4 1431.9,904.7 1436.3,905.0 1440.7,905.3 1445.0,905.6 1449.4,905.8 1453.8,906.0 1458.2,906.2 1462.6,906.4 1467.0,906.6 1471.3,906.7 1475.7,906.9 1480.1,907.0 1484.5,907.1 1488.9,907.2 1493.3,907.3 1497.7,907.4 1502.0,907.5 1506.4,907.5 1510.8,907.6 1515.2,907.7 1519.6,907.7 1524.0,907.8 1528.3,907.8 1532.7,907.9 1537.1,907.9" fill="none" stroke="#f0a12e" stroke-width="2.4" stroke-linejoin="round"/>
<polyline points="1209.4,951.2 1210.5,958.6 1211.0,951.2 1211.2,904.5 1211.6,886.7 1212.0,874.8 1212.5,866.6 1212.9,860.7 1213.3,856.1 1213.8,852.4 1214.2,849.3 1214.7,846.6 1215.1,844.1 1215.5,841.8 1216.0,839.6 1216.4,837.6 1216.9,835.6 1217.3,833.8 1219.5,825.4 1221.7,818.2 1223.9,812.1 1226.1,806.7 1228.3,802.0 1230.4,797.8 1232.6,794.0 1234.8,790.5 1237.0,787.4 1239.2,784.5 1241.4,781.8 1243.6,779.3 1245.8,777.0 1248.0,774.8 1250.2,772.7 1252.4,770.7 1254.6,768.8 1256.8,767.0 1258.9,765.3 1261.1,763.7 1263.3,762.2 1265.5,760.7 1267.7,759.2 1269.9,757.9 1272.1,756.6 1274.3,755.3 1276.5,754.1 1278.7,752.9 1280.9,751.8 1283.1,750.8 1285.2,749.7 1287.4,748.8 1289.6,747.8 1291.8,746.9 1294.0,746.0 1296.2,745.2 1298.4,744.4 1300.6,743.6 1302.8,742.9 1305.0,742.2 1307.2,741.5 1309.4,740.8 1311.6,740.2 1313.7,739.6 1315.9,739.0 1318.1,738.4 1320.3,737.9 1322.5,737.4 1324.7,736.9 1326.9,736.4 1329.1,735.9 1331.3,735.5 1333.5,735.1 1335.7,734.7 1337.9,734.3 1340.0,733.9 1344.2,750.7 1346.4,767.9 1348.6,785.1 1350.8,802.2 1353.0,819.4 1355.2,836.6 1357.4,853.7 1359.6,870.9 1361.7,871.9 1366.1,873.7 1370.5,875.4 1374.9,876.9 1379.3,878.3 1383.7,879.6 1388.1,880.7 1392.4,881.8 1396.8,882.8 1401.2,883.7 1405.6,884.5 1410.0,885.2 1414.4,885.9 1418.7,886.5 1423.1,887.1 1427.5,887.6 1431.9,888.0 1436.3,888.5 1440.7,888.9 1445.0,889.2 1449.4,889.5 1453.8,889.8 1458.2,890.1 1462.6,890.4 1467.0,890.6 1471.3,890.8 1475.7,891.0 1480.1,891.2 1484.5,891.3 1488.9,891.5 1493.3,891.6 1497.7,891.7 1502.0,891.8 1506.4,891.9 1510.8,892.0 1515.2,892.1 1519.6,892.2 1524.0,892.2 1528.3,892.3 1532.7,892.4 1537.1,892.4" fill="none" stroke="#333333" stroke-width="2.4" stroke-linejoin="round"/>
<line x1="1083.4" y1="951.2" x2="1209.8" y2="951.2" stroke="#5a5ad8" stroke-width="2.4"/>
<polyline points="1209.2,951.2 1209.8,967.1 1210.9,953.0" fill="none" stroke="#333" stroke-width="2"/>
<line x1="1529.0" y1="635.0" x2="1556.0" y2="635.0" stroke="#5a6ee0" stroke-width="2.4"/>
<text x="1572.7" y="643.0" font-size="21.8" text-anchor="start" fill="#111" stroke="#111" stroke-width="0.7">0.3125μM</text>
<line x1="1529.0" y1="671.7" x2="1556.0" y2="671.7" stroke="#d84850" stroke-width="2.4"/>
<text x="1572.7" y="679.7" font-size="21.8" text-anchor="start" fill="#111" stroke="#111" stroke-width="0.7">0.625μM</text>
<line x1="1529.0" y1="707.8" x2="1556.0" y2="707.8" stroke="#4cc44c" stroke-width="2.4"/>
<text x="1572.7" y="715.8" font-size="21.8" text-anchor="start" fill="#111" stroke="#111" stroke-width="0.7">1.25μM</text>
<line x1="1529.0" y1="743.8" x2="1556.0" y2="743.8" stroke="#b060ee" stroke-width="2.4"/>
<text x="1572.7" y="751.8" font-size="21.8" text-anchor="start" fill="#111" stroke="#111" stroke-width="0.7">2.5μM</text>
<line x1="1529.0" y1="780.8" x2="1556.0" y2="780.8" stroke="#f0a030" stroke-width="2.4"/>
<text x="1572.7" y="788.8" font-size="21.8" text-anchor="start" fill="#111" stroke="#111" stroke-width="0.7">5μM</text>
<line x1="1529.0" y1="816.9" x2="1556.0" y2="816.9" stroke="#555" stroke-width="2.4"/>
<text x="1572.7" y="824.9" font-size="21.8" text-anchor="start" fill="#111" stroke="#111" stroke-width="0.7">10μM</text>
<line x1="1037.5" y1="1243.0" x2="1037.5" y2="1621.0" stroke="#111" stroke-width="3.2"/>
<line x1="1036.0" y1="1619.6" x2="1604.5" y2="1619.6" stroke="#111" stroke-width="3.2"/>
<line x1="1022.8" y1="1619.6" x2="1037.5" y2="1619.6" stroke="#111" stroke-width="3.2"/>
<text x="1017.0" y="1629.1" font-size="27.5" text-anchor="end" font-weight="bold" fill="#111" textLength="15.9" lengthAdjust="spacingAndGlyphs">0</text>
<line x1="1022.8" y1="1544.6" x2="1037.5" y2="1544.6" stroke="#111" stroke-width="3.2"/>
<text x="1017.0" y="1554.1" font-size="27.5" text-anchor="end" font-weight="bold" fill="#111" textLength="31.8" lengthAdjust="spacingAndGlyphs">20</text>
<line x1="1022.8" y1="1469.6" x2="1037.5" y2="1469.6" stroke="#111" stroke-width="3.2"/>
<text x="1017.0" y="1479.1" font-size="27.5" text-anchor="end" font-weight="bold" fill="#111" textLength="31.8" lengthAdjust="spacingAndGlyphs">40</text>
<line x1="1022.8" y1="1394.6" x2="1037.5" y2="1394.6" stroke="#111" stroke-width="3.2"/>
<text x="1017.0" y="1404.1" font-size="27.5" text-anchor="end" font-weight="bold" fill="#111" textLength="31.8" lengthAdjust="spacingAndGlyphs">60</text>
<line x1="1022.8" y1="1319.6" x2="1037.5" y2="1319.6" stroke="#111" stroke-width="3.2"/>
<text x="1017.0" y="1329.1" font-size="27.5" text-anchor="end" font-weight="bold" fill="#111" textLength="31.8" lengthAdjust="spacingAndGlyphs">80</text>
<line x1="1022.8" y1="1244.6" x2="1037.5" y2="1244.6" stroke="#111" stroke-width="3.2"/>
<text x="1017.0" y="1254.1" font-size="27.5" text-anchor="end" font-weight="bold" fill="#111" textLength="47.7" lengthAdjust="spacingAndGlyphs">100</text>
<line x1="1037.5" y1="1619.6" x2="1037.5" y2="1635.0" stroke="#111" stroke-width="3.2"/>
<text x="1037.5" y="1667.0" font-size="27.5" text-anchor="middle" font-weight="bold" fill="#111">34</text>
<line x1="1226.0" y1="1619.6" x2="1226.0" y2="1635.0" stroke="#111" stroke-width="3.2"/>
<text x="1226.0" y="1667.0" font-size="27.5" text-anchor="middle" font-weight="bold" fill="#111">44</text>
<line x1="1414.5" y1="1619.6" x2="1414.5" y2="1635.0" stroke="#111" stroke-width="3.2"/>
<text x="1414.5" y="1667.0" font-size="27.5" text-anchor="middle" font-weight="bold" fill="#111">54</text>
<line x1="1603.0" y1="1619.6" x2="1603.0" y2="1635.0" stroke="#111" stroke-width="3.2"/>
<text x="1603.0" y="1667.0" font-size="27.5" text-anchor="middle" font-weight="bold" fill="#111">64</text>
<line x1="1100.3" y1="1619.6" x2="1100.3" y2="1628.0" stroke="#111" stroke-width="3"/>
<line x1="1163.2" y1="1619.6" x2="1163.2" y2="1628.0" stroke="#111" stroke-width="3"/>
<line x1="1288.8" y1="1619.6" x2="1288.8" y2="1628.0" stroke="#111" stroke-width="3"/>
<line x1="1351.7" y1="1619.6" x2="1351.7" y2="1628.0" stroke="#111" stroke-width="3"/>
<line x1="1477.3" y1="1619.6" x2="1477.3" y2="1628.0" stroke="#111" stroke-width="3"/>
<line x1="1540.2" y1="1619.6" x2="1540.2" y2="1628.0" stroke="#111" stroke-width="3"/>
<polyline points="1094.0,1342.1 1150.6,1350.7 1207.2,1392.7 1263.7,1445.6 1320.2,1596.3 1376.8,1612.8 1433.3,1614.0 1489.9,1614.0 1546.5,1613.2" fill="none" stroke="#c8708a" stroke-width="3.6" stroke-linejoin="round"/>
<polyline points="1094.0,1298.2 1150.6,1315.1 1207.2,1321.8 1263.7,1342.1 1320.2,1459.8 1376.8,1576.1 1433.3,1602.0 1489.9,1613.6 1546.5,1609.5" fill="none" stroke="#5d7ea6" stroke-width="3.6" stroke-linejoin="round"/>
<line x1="1094.0" y1="1337.6" x2="1094.0" y2="1346.6" stroke="#c8708a" stroke-width="2"/>
<line x1="1089.0" y1="1337.6" x2="1099.0" y2="1337.6" stroke="#c8708a" stroke-width="2"/>
<line x1="1089.0" y1="1346.6" x2="1099.0" y2="1346.6" stroke="#c8708a" stroke-width="2"/>
<circle cx="1094.0" cy="1342.1" r="5.5" fill="#c8708a"/>
<line x1="1150.6" y1="1347.0" x2="1150.6" y2="1354.5" stroke="#c8708a" stroke-width="2"/>
<line x1="1145.6" y1="1347.0" x2="1155.6" y2="1347.0" stroke="#c8708a" stroke-width="2"/>
<line x1="1145.6" y1="1354.5" x2="1155.6" y2="1354.5" stroke="#c8708a" stroke-width="2"/>
<circle cx="1150.6" cy="1350.7" r="5.5" fill="#c8708a"/>
<line x1="1207.2" y1="1386.0" x2="1207.2" y2="1399.5" stroke="#c8708a" stroke-width="2"/>
<line x1="1202.2" y1="1386.0" x2="1212.2" y2="1386.0" stroke="#c8708a" stroke-width="2"/>
<line x1="1202.2" y1="1399.5" x2="1212.2" y2="1399.5" stroke="#c8708a" stroke-width="2"/>
<circle cx="1207.2" cy="1392.7" r="5.5" fill="#c8708a"/>
<line x1="1263.7" y1="1441.8" x2="1263.7" y2="1449.3" stroke="#c8708a" stroke-width="2"/>
<line x1="1258.7" y1="1441.8" x2="1268.7" y2="1441.8" stroke="#c8708a" stroke-width="2"/>
<line x1="1258.7" y1="1449.3" x2="1268.7" y2="1449.3" stroke="#c8708a" stroke-width="2"/>
<circle cx="1263.7" cy="1445.6" r="5.5" fill="#c8708a"/>
<line x1="1320.2" y1="1585.1" x2="1320.2" y2="1607.6" stroke="#c8708a" stroke-width="2"/>
<line x1="1315.2" y1="1585.1" x2="1325.2" y2="1585.1" stroke="#c8708a" stroke-width="2"/>
<line x1="1315.2" y1="1607.6" x2="1325.2" y2="1607.6" stroke="#c8708a" stroke-width="2"/>
<circle cx="1320.2" cy="1596.3" r="5.5" fill="#c8708a"/>
<line x1="1376.8" y1="1611.0" x2="1376.8" y2="1614.7" stroke="#c8708a" stroke-width="2"/>
<line x1="1371.8" y1="1611.0" x2="1381.8" y2="1611.0" stroke="#c8708a" stroke-width="2"/>
<line x1="1371.8" y1="1614.7" x2="1381.8" y2="1614.7" stroke="#c8708a" stroke-width="2"/>
<circle cx="1376.8" cy="1612.8" r="5.5" fill="#c8708a"/>
<line x1="1433.3" y1="1612.8" x2="1433.3" y2="1615.1" stroke="#c8708a" stroke-width="2"/>
<line x1="1428.3" y1="1612.8" x2="1438.3" y2="1612.8" stroke="#c8708a" stroke-width="2"/>
<line x1="1428.3" y1="1615.1" x2="1438.3" y2="1615.1" stroke="#c8708a" stroke-width="2"/>
<circle cx="1433.3" cy="1614.0" r="5.5" fill="#c8708a"/>
<line x1="1489.9" y1="1612.8" x2="1489.9" y2="1615.1" stroke="#c8708a" stroke-width="2"/>
<line x1="1484.9" y1="1612.8" x2="1494.9" y2="1612.8" stroke="#c8708a" stroke-width="2"/>
<line x1="1484.9" y1="1615.1" x2="1494.9" y2="1615.1" stroke="#c8708a" stroke-width="2"/>
<circle cx="1489.9" cy="1614.0" r="5.5" fill="#c8708a"/>
<line x1="1546.5" y1="1612.1" x2="1546.5" y2="1614.3" stroke="#c8708a" stroke-width="2"/>
<line x1="1541.5" y1="1612.1" x2="1551.5" y2="1612.1" stroke="#c8708a" stroke-width="2"/>
<line x1="1541.5" y1="1614.3" x2="1551.5" y2="1614.3" stroke="#c8708a" stroke-width="2"/>
<circle cx="1546.5" cy="1613.2" r="5.5" fill="#c8708a"/>
<line x1="1094.0" y1="1290.0" x2="1094.0" y2="1306.5" stroke="#5d7ea6" stroke-width="2"/>
<line x1="1089.0" y1="1290.0" x2="1099.0" y2="1290.0" stroke="#5d7ea6" stroke-width="2"/>
<line x1="1089.0" y1="1306.5" x2="1099.0" y2="1306.5" stroke="#5d7ea6" stroke-width="2"/>
<rect x="1088.5" y="1292.7" width="11" height="11" fill="#5d7ea6"/>
<line x1="1150.6" y1="1312.1" x2="1150.6" y2="1318.1" stroke="#5d7ea6" stroke-width="2"/>
<line x1="1145.6" y1="1312.1" x2="1155.6" y2="1312.1" stroke="#5d7ea6" stroke-width="2"/>
<line x1="1145.6" y1="1318.1" x2="1155.6" y2="1318.1" stroke="#5d7ea6" stroke-width="2"/>
<rect x="1145.1" y="1309.6" width="11" height="11" fill="#5d7ea6"/>
<line x1="1207.2" y1="1318.8" x2="1207.2" y2="1324.8" stroke="#5d7ea6" stroke-width="2"/>
<line x1="1202.2" y1="1318.8" x2="1212.2" y2="1318.8" stroke="#5d7ea6" stroke-width="2"/>
<line x1="1202.2" y1="1324.8" x2="1212.2" y2="1324.8" stroke="#5d7ea6" stroke-width="2"/>
<rect x="1201.7" y="1316.3" width="11" height="11" fill="#5d7ea6"/>
<line x1="1263.7" y1="1339.1" x2="1263.7" y2="1345.1" stroke="#5d7ea6" stroke-width="2"/>
<line x1="1258.7" y1="1339.1" x2="1268.7" y2="1339.1" stroke="#5d7ea6" stroke-width="2"/>
<line x1="1258.7" y1="1345.1" x2="1268.7" y2="1345.1" stroke="#5d7ea6" stroke-width="2"/>
<rect x="1258.2" y="1336.6" width="11" height="11" fill="#5d7ea6"/>
<line x1="1320.2" y1="1456.1" x2="1320.2" y2="1463.6" stroke="#5d7ea6" stroke-width="2"/>
<line x1="1315.2" y1="1456.1" x2="1325.2" y2="1456.1" stroke="#5d7ea6" stroke-width="2"/>
<line x1="1315.2" y1="1463.6" x2="1325.2" y2="1463.6" stroke="#5d7ea6" stroke-width="2"/>
<rect x="1314.8" y="1454.3" width="11" height="11" fill="#5d7ea6"/>
<line x1="1376.8" y1="1573.1" x2="1376.8" y2="1579.1" stroke="#5d7ea6" stroke-width="2"/>
<line x1="1371.8" y1="1573.1" x2="1381.8" y2="1573.1" stroke="#5d7ea6" stroke-width="2"/>
<line x1="1371.8" y1="1579.1" x2="1381.8" y2="1579.1" stroke="#5d7ea6" stroke-width="2"/>
<rect x="1371.3" y="1570.6" width="11" height="11" fill="#5d7ea6"/>
<line x1="1433.3" y1="1597.5" x2="1433.3" y2="1606.5" stroke="#5d7ea6" stroke-width="2"/>
<line x1="1428.3" y1="1597.5" x2="1438.3" y2="1597.5" stroke="#5d7ea6" stroke-width="2"/>
<line x1="1428.3" y1="1606.5" x2="1438.3" y2="1606.5" stroke="#5d7ea6" stroke-width="2"/>
<rect x="1427.8" y="1596.5" width="11" height="11" fill="#5d7ea6"/>
<line x1="1489.9" y1="1611.7" x2="1489.9" y2="1615.5" stroke="#5d7ea6" stroke-width="2"/>
<line x1="1484.9" y1="1611.7" x2="1494.9" y2="1611.7" stroke="#5d7ea6" stroke-width="2"/>
<line x1="1484.9" y1="1615.5" x2="1494.9" y2="1615.5" stroke="#5d7ea6" stroke-width="2"/>
<rect x="1484.4" y="1608.1" width="11" height="11" fill="#5d7ea6"/>
<line x1="1546.5" y1="1607.2" x2="1546.5" y2="1611.7" stroke="#5d7ea6" stroke-width="2"/>
<line x1="1541.5" y1="1607.2" x2="1551.5" y2="1607.2" stroke="#5d7ea6" stroke-width="2"/>
<line x1="1541.5" y1="1611.7" x2="1551.5" y2="1611.7" stroke="#5d7ea6" stroke-width="2"/>
<rect x="1541.0" y="1604.0" width="11" height="11" fill="#5d7ea6"/>
<line x1="1491.5" y1="1267.9" x2="1522.8" y2="1267.9" stroke="#c8708a" stroke-width="3.2"/>
<circle cx="1507" cy="1267.9" r="4.5" fill="#c8708a"/>
<line x1="1491.5" y1="1310.7" x2="1522.8" y2="1310.7" stroke="#5d7ea6" stroke-width="3.2"/>
<rect x="1502.5" y="1306.2" width="9" height="9" fill="#5d7ea6"/>
<text x="1542.9" y="1277.0" font-size="23.5" text-anchor="start" fill="#222" stroke="#222" stroke-width="0.7">Control</text>
<text x="1542.9" y="1319.8" font-size="23.5" text-anchor="start" fill="#222" stroke="#222" stroke-width="0.7">Hyp</text>
<text x="948.0" y="1436.2" font-size="27.3" text-anchor="middle" fill="#222" stroke="#222" stroke-width="0.7" transform="rotate(-90 948.0 1436.2)" textLength="325" lengthAdjust="spacingAndGlyphs">Relative band intensity (%)</text>
<path d="M68,1961 C85,1965 100,1975 111,1987 C104,1975 102,1960 108,1957 C115,1955 116,1975 112,1990 C118,2000 120,2012 130,2020" fill="none" stroke="#4a3aa8" stroke-width="2.2" stroke-linecap="round" stroke-linejoin="round" opacity="1.0"/>
<path d="M133,1875 C140,1900 155,1930 165,1953" fill="none" stroke="#3aa6d8" stroke-width="2.5" stroke-linecap="round" stroke-linejoin="round" opacity="1.0"/>
<path d="M140,1880 C150,1905 160,1925 170,1950" fill="none" stroke="#5aa0c8" stroke-width="1.8" stroke-linecap="round" stroke-linejoin="round" opacity="1.0"/>
<path d="M213,1872 C235,1865 255,1872 258,1885 C262,1900 262,1925 262,1945" fill="none" stroke="#b55a3a" stroke-width="1.8" stroke-linecap="round" stroke-linejoin="round" opacity="1.0"/>
<path d="M170,1912 C180,1905 200,1902 215,1905" fill="none" stroke="#3a70c0" stroke-width="2.2" stroke-linecap="round" stroke-linejoin="round" opacity="1.0"/>
<path d="M150,1905 C165,1918 175,1920 190,1918" fill="none" stroke="#b5503a" stroke-width="1.6" stroke-linecap="round" stroke-linejoin="round" opacity="1.0"/>
<path d="M172,1960 C190,1925 200,1905 207,1900" fill="none" stroke="#2a60b0" stroke-width="2.4" stroke-linecap="round" stroke-linejoin="round" opacity="1.0"/>
<ellipse cx="139" cy="1870" rx="9" ry="7" fill="#50b8e8" stroke="#2a90c8" stroke-width="1.5"/>
<line x1="168.2" y1="1916.3" x2="160.4" y2="1893.9" stroke="#6a6a6a" stroke-width="7.4" stroke-linecap="round"/>
<line x1="181.5" y1="1904.8" x2="173.7" y2="1882.4" stroke="#6a6a6a" stroke-width="7.4" stroke-linecap="round"/>
<line x1="194.7" y1="1893.3" x2="186.9" y2="1870.9" stroke="#6a6a6a" stroke-width="7.4" stroke-linecap="round"/>
<line x1="208.0" y1="1881.8" x2="200.2" y2="1859.4" stroke="#6a6a6a" stroke-width="7.4" stroke-linecap="round"/>
<path d="M160.4,1893.9 Q172.3,1898.2 181.5,1904.8" fill="none" stroke="#8a3020" stroke-width="7.4" stroke-linecap="round"/>
<path d="M173.7,1882.4 Q185.5,1886.7 194.7,1893.3" fill="none" stroke="#8a3020" stroke-width="7.4" stroke-linecap="round"/>
<path d="M186.9,1870.9 Q198.8,1875.2 208.0,1881.8" fill="none" stroke="#8a3020" stroke-width="7.4" stroke-linecap="round"/>
<path d="M200.2,1859.4 Q212.0,1863.7 221.2,1870.3" fill="none" stroke="#8a3020" stroke-width="7.4" stroke-linecap="round"/>
<path d="M152,1905 L166,1896 L172,1912 L160,1918 Z" fill="#c04a30" stroke="none" opacity="1.0"/>
<line x1="207.0" y1="1905.8" x2="229.5" y2="1910.7" stroke="#3a4a6a" stroke-width="5.5" stroke-linecap="round"/>
<line x1="208.0" y1="1918.8" x2="230.5" y2="1923.7" stroke="#3a4a6a" stroke-width="5.5" stroke-linecap="round"/>
<line x1="209.0" y1="1931.8" x2="231.5" y2="1936.7" stroke="#3a4a6a" stroke-width="5.5" stroke-linecap="round"/>
<line x1="210.0" y1="1944.8" x2="232.5" y2="1949.7" stroke="#3a4a6a" stroke-width="5.5" stroke-linecap="round"/>
<path d="M229.5,1910.7 Q218.8,1916.0 208.0,1918.8" fill="none" stroke="#2a70c0" stroke-width="5.5" stroke-linecap="round"/>
<path d="M230.5,1923.7 Q219.8,1929.0 209.0,1931.8" fill="none" stroke="#2a70c0" stroke-width="5.5" stroke-linecap="round"/>
<path d="M231.5,1936.7 Q220.8,1942.0 210.0,1944.8" fill="none" stroke="#2a70c0" stroke-width="5.5" stroke-linecap="round"/>
<path d="M232.5,1949.7 Q221.8,1955.0 211.0,1957.8" fill="none" stroke="#2a70c0" stroke-width="5.5" stroke-linecap="round"/>
<path d="M123,2005 C130,1985 145,1970 170,1962" fill="none" stroke="#3a4a88" stroke-width="6" stroke-linecap="round" stroke-linejoin="round" opacity="0.9"/>
<path d="M128,2015 C138,2000 150,1990 168,1985" fill="none" stroke="#5a5aa8" stroke-width="3" stroke-linecap="round" stroke-linejoin="round" opacity="0.8"/>
<path d="M127,2017 L150,2017 L150,2012 L163,2021 L150,2030 L150,2025 L127,2025 Z" fill="#2a1898" stroke="none" opacity="1.0"/>
<line x1="248.0" y1="1948.1" x2="268.1" y2="1958.4" stroke="#3a8a50" stroke-width="7.5" stroke-linecap="round"/>
<line x1="248.3" y1="1969.1" x2="268.4" y2="1979.4" stroke="#3a8a50" stroke-width="7.5" stroke-linecap="round"/>
<line x1="248.6" y1="1990.1" x2="268.7" y2="2000.4" stroke="#3a8a50" stroke-width="7.5" stroke-linecap="round"/>
<line x1="248.9" y1="2011.1" x2="269.0" y2="2021.4" stroke="#3a8a50" stroke-width="7.5" stroke-linecap="round"/>
<line x1="249.1" y1="2032.1" x2="269.3" y2="2042.4" stroke="#3a8a50" stroke-width="7.5" stroke-linecap="round"/>
<line x1="249.4" y1="2053.1" x2="269.6" y2="2063.4" stroke="#3a8a50" stroke-width="7.5" stroke-linecap="round"/>
<line x1="249.7" y1="2074.1" x2="269.9" y2="2084.4" stroke="#3a8a50" stroke-width="7.5" stroke-linecap="round"/>
<path d="M268.1,1958.4 Q258.2,1965.8 248.3,1969.1" fill="none" stroke="#48b060" stroke-width="7.5" stroke-linecap="round"/>
<path d="M268.4,1979.4 Q258.5,1986.8 248.6,1990.1" fill="none" stroke="#48b060" stroke-width="7.5" stroke-linecap="round"/>
<path d="M268.7,2000.4 Q258.8,2007.8 248.9,2011.1" fill="none" stroke="#48b060" stroke-width="7.5" stroke-linecap="round"/>
<path d="M269.0,2021.4 Q259.1,2028.8 249.1,2032.1" fill="none" stroke="#48b060" stroke-width="7.5" stroke-linecap="round"/>
<path d="M269.3,2042.4 Q259.4,2049.8 249.4,2053.1" fill="none" stroke="#48b060" stroke-width="7.5" stroke-linecap="round"/>
<path d="M269.6,2063.4 Q259.7,2070.8 249.7,2074.1" fill="none" stroke="#48b060" stroke-width="7.5" stroke-linecap="round"/>
<path d="M269.9,2084.4 Q260.0,2091.8 250.0,2095.1" fill="none" stroke="#48b060" stroke-width="7.5" stroke-linecap="round"/>
<path d="M265,1937 C275,1935 285,1940 295,1953" fill="none" stroke="#48b048" stroke-width="1.8" stroke-linecap="round" stroke-linejoin="round" opacity="1.0"/>
<path d="M232,1955 C245,1960 250,1990 240,2020 C235,2035 230,2045 225,2055" fill="none" stroke="#40a860" stroke-width="2.2" stroke-linecap="round" stroke-linejoin="round" opacity="1.0"/>
<path d="M213,2045 C225,2040 238,2050 236,2066 C225,2070 215,2062 213,2045 Z" fill="#30a8a0" stroke="none" opacity="0.9"/>
<path d="M222,2078 C225,2100 245,2106 258,2100 C262,2092 258,2082 250,2078" fill="none" stroke="#30b0a0" stroke-width="2.4" stroke-linecap="round" stroke-linejoin="round" opacity="1.0"/>
<path d="M180,2075 C200,2090 215,2088 222,2078" fill="none" stroke="#b05a4a" stroke-width="1.5" stroke-linecap="round" stroke-linejoin="round" opacity="1.0"/>
<line x1="281.0" y1="2007.9" x2="267.6" y2="1986.8" stroke="#8c8c8c" stroke-width="6.0" stroke-linecap="round"/>
<line x1="290.4" y1="1997.2" x2="277.0" y2="1976.1" stroke="#8c8c8c" stroke-width="6.0" stroke-linecap="round"/>
<line x1="299.7" y1="1986.6" x2="286.3" y2="1965.4" stroke="#8c8c8c" stroke-width="6.0" stroke-linecap="round"/>
<path d="M267.6,1986.8 Q279.9,1990.9 290.4,1997.2" fill="none" stroke="#e6e030" stroke-width="6.0" stroke-linecap="round"/>
<path d="M277.0,1976.1 Q289.3,1980.3 299.7,1986.6" fill="none" stroke="#e6e030" stroke-width="6.0" stroke-linecap="round"/>
<path d="M286.3,1965.4 Q298.6,1969.6 309.0,1975.9" fill="none" stroke="#e6e030" stroke-width="6.0" stroke-linecap="round"/>
<line x1="276.9" y1="2059.5" x2="264.4" y2="2035.5" stroke="#8c8c8c" stroke-width="6.1" stroke-linecap="round"/>
<line x1="287.6" y1="2049.5" x2="275.1" y2="2025.5" stroke="#8c8c8c" stroke-width="6.1" stroke-linecap="round"/>
<line x1="298.2" y1="2039.5" x2="285.8" y2="2015.5" stroke="#8c8c8c" stroke-width="6.1" stroke-linecap="round"/>
<path d="M264.4,2035.5 Q277.1,2041.5 287.6,2049.5" fill="none" stroke="#e8e040" stroke-width="6.1" stroke-linecap="round"/>
<path d="M275.1,2025.5 Q287.7,2031.5 298.2,2039.5" fill="none" stroke="#e8e040" stroke-width="6.1" stroke-linecap="round"/>
<path d="M285.8,2015.5 Q298.4,2021.5 308.9,2029.5" fill="none" stroke="#e8e040" stroke-width="6.1" stroke-linecap="round"/>
<line x1="283.5" y1="2097.0" x2="270.7" y2="2078.0" stroke="#8c8c8c" stroke-width="5.5" stroke-linecap="round"/>
<line x1="291.8" y1="2087.0" x2="279.0" y2="2068.0" stroke="#8c8c8c" stroke-width="5.5" stroke-linecap="round"/>
<line x1="300.1" y1="2077.0" x2="287.4" y2="2058.0" stroke="#8c8c8c" stroke-width="5.5" stroke-linecap="round"/>
<path d="M270.7,2078.0 Q282.1,2081.5 291.8,2087.0" fill="none" stroke="#e0d840" stroke-width="5.5" stroke-linecap="round"/>
<path d="M279.0,2068.0 Q290.4,2071.5 300.1,2077.0" fill="none" stroke="#e0d840" stroke-width="5.5" stroke-linecap="round"/>
<path d="M287.4,2058.0 Q298.8,2061.5 308.5,2067.0" fill="none" stroke="#e0d840" stroke-width="5.5" stroke-linecap="round"/>
<line x1="329.8" y1="2047.0" x2="314.4" y2="2027.2" stroke="#8c8c8c" stroke-width="6.0" stroke-linecap="round"/>
<line x1="338.1" y1="2035.3" x2="322.7" y2="2015.5" stroke="#8c8c8c" stroke-width="6.0" stroke-linecap="round"/>
<line x1="346.4" y1="2023.6" x2="331.1" y2="2003.9" stroke="#8c8c8c" stroke-width="6.0" stroke-linecap="round"/>
<path d="M314.4,2027.2 Q327.1,2030.1 338.1,2035.3" fill="none" stroke="#e8d838" stroke-width="6.0" stroke-linecap="round"/>
<path d="M322.7,2015.5 Q335.4,2018.4 346.4,2023.6" fill="none" stroke="#e8d838" stroke-width="6.0" stroke-linecap="round"/>
<path d="M331.1,2003.9 Q343.8,2006.8 354.8,2012.0" fill="none" stroke="#e8d838" stroke-width="6.0" stroke-linecap="round"/>
<line x1="314.1" y1="2092.4" x2="303.2" y2="2071.7" stroke="#8c8c8c" stroke-width="6.6" stroke-linecap="round"/>
<line x1="324.8" y1="2080.8" x2="313.9" y2="2060.1" stroke="#8c8c8c" stroke-width="6.6" stroke-linecap="round"/>
<line x1="335.5" y1="2069.1" x2="324.5" y2="2048.4" stroke="#8c8c8c" stroke-width="6.6" stroke-linecap="round"/>
<path d="M303.2,2071.7 Q315.1,2075.1 324.8,2080.8" fill="none" stroke="#c89a40" stroke-width="6.6" stroke-linecap="round"/>
<path d="M313.9,2060.1 Q325.7,2063.4 335.5,2069.1" fill="none" stroke="#c89a40" stroke-width="6.6" stroke-linecap="round"/>
<path d="M324.5,2048.4 Q336.4,2051.8 346.1,2057.4" fill="none" stroke="#c89a40" stroke-width="6.6" stroke-linecap="round"/>
<line x1="362.8" y1="1994.6" x2="383.9" y2="1980.4" stroke="#8c8c8c" stroke-width="7.0" stroke-linecap="round"/>
<line x1="376.1" y1="2004.6" x2="397.2" y2="1990.4" stroke="#8c8c8c" stroke-width="7.0" stroke-linecap="round"/>
<line x1="389.5" y1="2014.6" x2="410.5" y2="2000.4" stroke="#8c8c8c" stroke-width="7.0" stroke-linecap="round"/>
<path d="M383.9,1980.4 Q381.3,1993.5 376.1,2004.6" fill="none" stroke="#eee040" stroke-width="7.0" stroke-linecap="round"/>
<path d="M397.2,1990.4 Q394.7,2003.5 389.5,2014.6" fill="none" stroke="#eee040" stroke-width="7.0" stroke-linecap="round"/>
<path d="M410.5,2000.4 Q408.0,2013.5 402.8,2024.6" fill="none" stroke="#eee040" stroke-width="7.0" stroke-linecap="round"/>
<line x1="332.1" y1="2066.2" x2="353.4" y2="2060.8" stroke="#8c8c8c" stroke-width="7.5" stroke-linecap="round"/>
<line x1="343.1" y1="2080.2" x2="364.4" y2="2074.8" stroke="#8c8c8c" stroke-width="7.5" stroke-linecap="round"/>
<path d="M353.4,2060.8 Q349.4,2071.9 343.1,2080.2" fill="none" stroke="#e8d840" stroke-width="7.5" stroke-linecap="round"/>
<path d="M364.4,2074.8 Q360.4,2085.9 354.1,2094.2" fill="none" stroke="#e8d840" stroke-width="7.5" stroke-linecap="round"/>
<path d="M412,2016 C405,2050 390,2080 360,2100 C340,2112 320,2118 304,2116" fill="none" stroke="#d8c838" stroke-width="2.0" stroke-linecap="round" stroke-linejoin="round" opacity="1.0"/>
<path d="M381,1958 C378,1968 372,1975 368,1980" fill="none" stroke="#d8c838" stroke-width="2.0" stroke-linecap="round" stroke-linejoin="round" opacity="1.0"/>
<path d="M300,1965 C296,1955 300,1948 308,1946" fill="none" stroke="#d0c838" stroke-width="2.0" stroke-linecap="round" stroke-linejoin="round" opacity="1.0"/>
<path d="M335,2002 C345,1990 350,1980 345,1972" fill="none" stroke="#d0c838" stroke-width="1.8" stroke-linecap="round" stroke-linejoin="round" opacity="1.0"/>
<text x="158.8" y="1968.9" font-size="6.5" text-anchor="start" fill="#666" stroke="#666" stroke-width="0.3" opacity="0.8">LYS-45</text>
<text x="189.8" y="1972.7" font-size="6.5" text-anchor="start" fill="#666" stroke="#666" stroke-width="0.3" opacity="0.8">CYS-31</text>
<text x="178.9" y="1978.8" font-size="6.5" text-anchor="start" fill="#666" stroke="#666" stroke-width="0.3" opacity="0.8">ILE-44</text>
<text x="133.5" y="1983.9" font-size="6.5" text-anchor="start" fill="#666" stroke="#666" stroke-width="0.3" opacity="0.8">VAL-30</text>
<text x="131.6" y="1987.8" font-size="6.5" text-anchor="start" fill="#666" stroke="#666" stroke-width="0.3" opacity="0.8">GLN-96</text>
<text x="134.6" y="1990.0" font-size="6.5" text-anchor="start" fill="#666" stroke="#666" stroke-width="0.3" opacity="0.8">ILE-75</text>
<text x="168.3" y="1998.8" font-size="6.5" text-anchor="start" fill="#666" stroke="#666" stroke-width="0.3" opacity="0.8">ASP-158</text>
<text x="139.8" y="1999.4" font-size="6.5" text-anchor="start" fill="#666" stroke="#666" stroke-width="0.3" opacity="0.8">TYR-27</text>
<text x="187.6" y="2008.1" font-size="6.5" text-anchor="start" fill="#666" stroke="#666" stroke-width="0.3" opacity="0.8">ILE-94</text>
<text x="182.8" y="2009.1" font-size="6.5" text-anchor="start" fill="#666" stroke="#666" stroke-width="0.3" opacity="0.8">LEU-146</text>
<text x="220.7" y="2011.3" font-size="6.5" text-anchor="start" fill="#666" stroke="#666" stroke-width="0.3" opacity="0.8">ASN-145</text>
<text x="209.6" y="2017.0" font-size="6.5" text-anchor="start" fill="#666" stroke="#666" stroke-width="0.3" opacity="0.8">ALA-43</text>
<text x="141.7" y="2020.3" font-size="6.5" text-anchor="start" fill="#666" stroke="#666" stroke-width="0.3" opacity="0.8">GLU-24</text>
<text x="157.3" y="2028.8" font-size="6.5" text-anchor="start" fill="#666" stroke="#666" stroke-width="0.3" opacity="0.8">LEU-147</text>
<text x="145.2" y="2031.7" font-size="6.5" text-anchor="start" fill="#666" stroke="#666" stroke-width="0.3" opacity="0.8">ASP-97</text>
<text x="188.7" y="2034.7" font-size="6.5" text-anchor="start" fill="#666" stroke="#666" stroke-width="0.3" opacity="0.8">LEU-98</text>
<text x="180.0" y="2037.2" font-size="6.5" text-anchor="start" fill="#666" stroke="#666" stroke-width="0.3" opacity="0.8">MET-99</text>
<text x="133.7" y="2042.3" font-size="6.5" text-anchor="start" fill="#666" stroke="#666" stroke-width="0.3" opacity="0.8">ILE-22</text>
<text x="192.6" y="2048.0" font-size="6.5" text-anchor="start" fill="#666" stroke="#666" stroke-width="0.3" opacity="0.8">GLU-100</text>
<text x="157.8" y="2053.2" font-size="6.5" text-anchor="start" fill="#666" stroke="#666" stroke-width="0.3" opacity="0.8">THR-101</text>
<text x="171.1" y="2055.8" font-size="6.5" text-anchor="start" fill="#666" stroke="#666" stroke-width="0.3" opacity="0.8">SER-144</text>
<text x="203.5" y="2062.5" font-size="6.5" text-anchor="start" fill="#666" stroke="#666" stroke-width="0.3" opacity="0.8">TYR-104</text>
<text x="151.2" y="2066.0" font-size="6.5" text-anchor="start" fill="#666" stroke="#666" stroke-width="0.3" opacity="0.8">LYS-105</text>
<text x="177.9" y="2072.2" font-size="6.5" text-anchor="start" fill="#666" stroke="#666" stroke-width="0.3" opacity="0.8">ASP-102</text>
<text x="197.3" y="2072.9" font-size="6.5" text-anchor="start" fill="#666" stroke="#666" stroke-width="0.3" opacity="0.8">GLU-360</text>
<polyline points="247.6,1970.4 246.1,1974.0 239.9,1973.8 231.6,1976.2" fill="none" stroke="#c04040" stroke-width="1.0" opacity="0.8"/>
<polyline points="198.8,2049.9 195.4,2052.7 197.1,2053.8 196.3,2058.5" fill="none" stroke="#30b0c0" stroke-width="1.0" opacity="0.8"/>
<polyline points="186.9,2027.7 179.0,2030.6 181.6,2037.5 187.4,2034.4" fill="none" stroke="#30a040" stroke-width="1.0" opacity="0.8"/>
<polyline points="236.4,1994.4 244.4,1992.4 246.4,1992.3 241.3,1989.3" fill="none" stroke="#808080" stroke-width="1.0" opacity="0.8"/>
<polyline points="159.7,1999.0 166.4,1993.2 165.5,1993.9 172.4,1998.3" fill="none" stroke="#c04040" stroke-width="1.0" opacity="0.8"/>
<polyline points="163.4,2001.6 160.9,2007.0 169.1,2002.1 163.3,1998.3" fill="none" stroke="#3a60c0" stroke-width="1.0" opacity="0.8"/>
<polyline points="131.4,2045.3 125.7,2042.2 119.4,2042.7 121.3,2040.2" fill="none" stroke="#3a60c0" stroke-width="1.0" opacity="0.8"/>
<polyline points="212.9,2012.1 215.0,2014.6 206.9,2020.2 212.0,2025.4" fill="none" stroke="#c04040" stroke-width="1.0" opacity="0.8"/>
<polyline points="177.1,1999.9 169.9,2001.8 162.1,1995.7 156.8,1991.0" fill="none" stroke="#30b0c0" stroke-width="1.0" opacity="0.8"/>
<polyline points="202.1,1968.7 203.3,1969.3 211.4,1970.9 203.6,1966.8" fill="none" stroke="#30a040" stroke-width="1.0" opacity="0.8"/>
<polyline points="147.8,1984.5 145.1,1982.6 138.3,1987.5 147.2,1987.0" fill="none" stroke="#30a040" stroke-width="1.0" opacity="0.8"/>
<polyline points="167.4,1973.1 171.9,1976.5 171.5,1979.2 171.8,1975.1" fill="none" stroke="#c04040" stroke-width="1.0" opacity="0.8"/>
<polyline points="173.4,2030.5 180.9,2034.1 177.2,2036.1 169.9,2040.9" fill="none" stroke="#c04040" stroke-width="1.0" opacity="0.8"/>
<polyline points="174.0,1975.5 178.9,1976.0 183.9,1973.6 178.9,1978.0" fill="none" stroke="#3a60c0" stroke-width="1.0" opacity="0.8"/>
<polyline points="226.7,2043.9 231.0,2040.1 231.4,2038.1 222.9,2031.5" fill="none" stroke="#30b0c0" stroke-width="1.0" opacity="0.8"/>
<polyline points="186.7,1978.3 188.6,1976.2 194.1,1979.3 191.4,1985.9" fill="none" stroke="#303090" stroke-width="1.0" opacity="0.8"/>
<polyline points="156.5,1981.8 151.0,1977.7 153.2,1983.3 159.4,1983.0" fill="none" stroke="#808080" stroke-width="1.0" opacity="0.8"/>
<polyline points="171.3,2025.5 177.3,2020.2 175.3,2023.2 169.9,2028.6" fill="none" stroke="#30a040" stroke-width="1.0" opacity="0.8"/>
<polyline points="224.7,1992.9 230.1,1999.5 228.2,1998.1 236.3,2001.3" fill="none" stroke="#3a60c0" stroke-width="1.0" opacity="0.8"/>
<polyline points="249.2,1960.9 250.8,1960.4 253.6,1962.0 255.3,1961.6" fill="none" stroke="#30b0c0" stroke-width="1.0" opacity="0.8"/>
<polyline points="148.7,2015.6 140.1,2019.8 144.2,2014.2 148.7,2009.1" fill="none" stroke="#3a60c0" stroke-width="1.0" opacity="0.8"/>
<polyline points="229.1,1980.2 224.7,1977.3 220.0,1978.5 215.7,1977.3" fill="none" stroke="#3a60c0" stroke-width="1.0" opacity="0.8"/>
<polyline points="137.3,2035.7 144.5,2038.0 150.1,2038.2 156.0,2043.5" fill="none" stroke="#3a60c0" stroke-width="1.0" opacity="0.8"/>
<polyline points="193.8,2013.0 185.2,2012.1 179.5,2005.2 184.8,2000.6" fill="none" stroke="#30a040" stroke-width="1.0" opacity="0.8"/>
<polyline points="204.3,1970.6 196.4,1973.2 197.0,1972.9 201.9,1978.3" fill="none" stroke="#303090" stroke-width="1.0" opacity="0.8"/>
<polyline points="159.8,1987.1 164.7,1987.2 165.8,1990.8 173.3,1990.0" fill="none" stroke="#c04040" stroke-width="1.0" opacity="0.8"/>
<polyline points="246.8,2021.6 241.4,2018.5 241.5,2022.8 241.7,2019.3" fill="none" stroke="#c04040" stroke-width="1.0" opacity="0.8"/>
<polyline points="235.2,2056.9 230.9,2057.8 238.8,2062.5 232.3,2057.2" fill="none" stroke="#30a040" stroke-width="1.0" opacity="0.8"/>
<polyline points="167.9,2028.5 166.6,2024.4 163.1,2019.2 168.1,2025.3" fill="none" stroke="#808080" stroke-width="1.0" opacity="0.8"/>
<polyline points="209.2,1973.0 216.1,1979.6 211.1,1985.9 209.2,1985.7" fill="none" stroke="#808080" stroke-width="1.0" opacity="0.8"/>
<polyline points="229.9,1975.0 228.7,1975.2 225.8,1970.9 222.5,1974.0" fill="none" stroke="#303090" stroke-width="1.0" opacity="0.8"/>
<polyline points="170.6,2006.2 174.2,2004.5 174.5,2001.7 182.8,1996.3" fill="none" stroke="#3a60c0" stroke-width="1.0" opacity="0.8"/>
<polyline points="246.6,1969.0 242.4,1962.6 247.4,1959.3 240.7,1958.3" fill="none" stroke="#808080" stroke-width="1.0" opacity="0.8"/>
<polyline points="228.3,1985.2 222.0,1991.0 223.2,1993.8 215.8,1987.6" fill="none" stroke="#808080" stroke-width="1.0" opacity="0.8"/>
<polyline points="152.0,2052.0 147.8,2045.2 140.4,2041.9 142.4,2038.0" fill="none" stroke="#30b0c0" stroke-width="1.0" opacity="0.8"/>
<polyline points="233.5,2005.6 230.6,2006.4 238.3,2003.1 231.6,2003.5" fill="none" stroke="#3a60c0" stroke-width="1.0" opacity="0.8"/>
<polyline points="242.6,2059.8 238.3,2055.3 246.1,2057.1 246.6,2053.0" fill="none" stroke="#30a040" stroke-width="1.0" opacity="0.8"/>
<polyline points="190.0,1976.7 187.3,1969.9 182.8,1963.1 187.0,1963.9" fill="none" stroke="#3a60c0" stroke-width="1.0" opacity="0.8"/>
<polyline points="191.7,1983.8 190.8,1986.0 193.5,1988.2 194.3,1993.6" fill="none" stroke="#c04040" stroke-width="1.0" opacity="0.8"/>
<polyline points="166.9,1980.6 162.1,1976.4 168.9,1979.6 162.5,1986.4" fill="none" stroke="#303090" stroke-width="1.0" opacity="0.8"/>
<path d="M185,1995 L200,1990 L212,1998 L205,2010 L190,2008 Z M200,1990 L215,1982" fill="none" stroke="#bbbbbb" stroke-width="3"/>
<rect x="57.2" y="1821.8" width="373.6" height="313.5" fill="none" stroke="#f0d42c" stroke-width="4.5"/>
<rect x="122.8" y="1947.8" width="137.2" height="124" fill="none" stroke="#c4141e" stroke-width="4.5"/>
<line x1="261.0" y1="1946.0" x2="504.0" y2="1743.0" stroke="#c4141e" stroke-width="3.8"/>
<line x1="261.0" y1="2074.0" x2="504.0" y2="2207.0" stroke="#c4141e" stroke-width="3.8"/>
<text x="263.3" y="2126.0" font-size="24.3" text-anchor="middle" font-weight="bold" fill="#111">Stat3</text>
<clipPath id="cpE"><rect x="510" y="1762" width="538" height="427"/></clipPath>
<g clip-path="url(#cpE)">
<path d="M958,1762 L1048,1762 L1048,2189 L958,2189 Z" fill="#f2f6f3" stroke="none" opacity="1.0"/>
<path d="M1046,1755 C1020,1752 990,1770 968,1805" fill="none" stroke="#dcdde0" stroke-width="30" stroke-linecap="round" stroke-linejoin="round" opacity="1.0"/>
<path d="M966,1850 C975,1810 1005,1792 1046,1788" fill="none" stroke="#c2e2cc" stroke-width="36" stroke-linecap="round" stroke-linejoin="round" opacity="1.0"/>
<path d="M972,1840 C985,1815 1010,1800 1046,1797" fill="none" stroke="#d4ece0" stroke-width="8" stroke-linecap="round" stroke-linejoin="round" opacity="0.8"/>
<path d="M1046,1860 C1020,1857 990,1875 968,1910" fill="none" stroke="#dcdde0" stroke-width="30" stroke-linecap="round" stroke-linejoin="round" opacity="1.0"/>
<path d="M966,1955 C975,1915 1005,1897 1046,1893" fill="none" stroke="#c2e2cc" stroke-width="36" stroke-linecap="round" stroke-linejoin="round" opacity="1.0"/>
<path d="M972,1945 C985,1920 1010,1905 1046,1902" fill="none" stroke="#d4ece0" stroke-width="8" stroke-linecap="round" stroke-linejoin="round" opacity="0.8"/>
<path d="M1046,1965 C1020,1962 990,1980 968,2015" fill="none" stroke="#dcdde0" stroke-width="30" stroke-linecap="round" stroke-linejoin="round" opacity="1.0"/>
<path d="M966,2060 C975,2020 1005,2002 1046,1998" fill="none" stroke="#c2e2cc" stroke-width="36" stroke-linecap="round" stroke-linejoin="round" opacity="1.0"/>
<path d="M972,2050 C985,2025 1010,2010 1046,2007" fill="none" stroke="#d4ece0" stroke-width="8" stroke-linecap="round" stroke-linejoin="round" opacity="0.8"/>
<path d="M1046,2070 C1020,2067 990,2085 968,2120" fill="none" stroke="#dcdde0" stroke-width="30" stroke-linecap="round" stroke-linejoin="round" opacity="1.0"/>
<path d="M966,2165 C975,2125 1005,2107 1046,2103" fill="none" stroke="#c2e2cc" stroke-width="36" stroke-linecap="round" stroke-linejoin="round" opacity="1.0"/>
<path d="M972,2155 C985,2130 1010,2115 1046,2112" fill="none" stroke="#d4ece0" stroke-width="8" stroke-linecap="round" stroke-linejoin="round" opacity="0.8"/>
<path d="M1046,2175 C1020,2172 990,2190 968,2225" fill="none" stroke="#dcdde0" stroke-width="30" stroke-linecap="round" stroke-linejoin="round" opacity="1.0"/>
<path d="M966,2270 C975,2230 1005,2212 1046,2208" fill="none" stroke="#c2e2cc" stroke-width="36" stroke-linecap="round" stroke-linejoin="round" opacity="1.0"/>
<path d="M972,2260 C985,2235 1010,2220 1046,2217" fill="none" stroke="#d4ece0" stroke-width="8" stroke-linecap="round" stroke-linejoin="round" opacity="0.8"/>
<path d="M1046,1762 L1048,1762 L1048,2189 L1046,2189 Z" fill="#fff" stroke="none" opacity="1.0"/>
<path d="M988,1762 C982,1830 972,1890 962,1950" fill="none" stroke="#f0d2c6" stroke-width="5" stroke-linecap="round" stroke-linejoin="round" opacity="1.0"/>
<path d="M942,1762 C930,1820 912,1870 905,1920 C900,1950 902,1975 905,1995" fill="none" stroke="#bfe0c0" stroke-width="9" stroke-linecap="round" stroke-linejoin="round" opacity="1.0"/>
<path d="M508,1914 L515.3,1916 L552.9,1902.3 L587,1868 L607.6,1827 L621.3,1786 L625.4,1762 L656,1762 L641.8,1786 L635,1813.4 L621.3,1868 L600.8,1916 L573.4,1943.4 L515.3,1969.3 L508,1970 Z" fill="#c3c3d8" stroke="none" opacity="1.0"/>
<path d="M508,1935 L540,1925 L575,1905 L598,1875 L612,1840 L626,1800 L634,1770 L640,1770 L632,1805 L620,1845 L604,1882 L580,1915 L545,1938 L508,1950 Z" fill="#d6d6e4" stroke="none" opacity="1.0"/>
<path d="M508,1955 L545,1948 L578,1932 L600,1912 L604,1916 L582,1940 L548,1958 L508,1966 Z" fill="#b0b0bc" stroke="none" opacity="0.9"/>
<path d="M642,1822 C650,1830 662,1850 668,1880 L682,1978 L670,1978 L656,1890 C650,1860 646,1840 638,1830 Z" fill="#a8d6dc" stroke="none" opacity="0.9"/>
<path d="M650,1762 L670,1762 L668,1800 L655,1800 Z" fill="#a8d8dc" stroke="none" opacity="0.8"/>
<path d="M510,1978 L585,1980 L585,1962 L648,1994 L585,2032 L585,2027 L510,2027 Z" fill="#a6a8de" stroke="none" opacity="1.0"/>
<path d="M510,1958 L640,1960 L640,1972 L510,1974 Z" fill="#b4b4dc" stroke="none" opacity="0.9"/>
<path d="M609,1841 C650,1815 690,1790 710,1780 C740,1768 770,1764 800,1762" fill="none" stroke="#b2b2e4" stroke-width="7" stroke-linecap="round" stroke-linejoin="round" opacity="1.0"/>
<path d="M625,1838 C665,1812 700,1792 720,1784 C750,1772 775,1768 800,1766" fill="none" stroke="#c8c8ec" stroke-width="4" stroke-linecap="round" stroke-linejoin="round" opacity="0.8"/>
<path d="M660,1800 C720,1790 790,1795 830,1830 C850,1850 860,1870 865,1890" fill="none" stroke="#c2deee" stroke-width="10" stroke-linecap="round" stroke-linejoin="round" opacity="1.0"/>
<path d="M690,1762 C688,1850 684,1950 686,2030 C688,2080 690,2110 700,2135" fill="none" stroke="#c4e0ec" stroke-width="14" stroke-linecap="round" stroke-linejoin="round" opacity="1.0"/>
<path d="M858,1762 C860,1820 860,1860 858,1925" fill="none" stroke="#c2dcee" stroke-width="8" stroke-linecap="round" stroke-linejoin="round" opacity="1.0"/>
<path d="M690,1762 L698,1762 L700,1800" fill="none" stroke="#a8d8e0" stroke-width="6" stroke-linecap="round" stroke-linejoin="round" opacity="1.0"/>
<path d="M800,2030 C840,2015 900,1995 970,1975" fill="none" stroke="#d2d2d2" stroke-width="24" stroke-linecap="round" stroke-linejoin="round" opacity="0.9"/>
<path d="M815,2085 C860,2060 900,2030 950,2000" fill="none" stroke="#d0dcc8" stroke-width="22" stroke-linecap="round" stroke-linejoin="round" opacity="0.9"/>
<path d="M830,2060 L880,2045 L895,2189 L840,2189 Z" fill="#d2dccb" stroke="none" opacity="0.9"/>
<path d="M880,2040 L905,2035 L920,2189 L895,2189 Z" fill="#c8d0c6" stroke="none" opacity="0.8"/>
<ellipse cx="885" cy="2165" rx="72" ry="34" transform="rotate(-28 885 2165)" fill="#a6d2de" opacity="0.95"/>
<path d="M700,2095 C740,2085 790,2085 830,2095 L830,2135 C790,2128 740,2130 705,2140 Z" fill="#b6ccd8" stroke="none" opacity="0.9"/>
<path d="M780,2060 C800,2050 830,2050 850,2060 L850,2090 L780,2095 Z" fill="#c8dcc8" stroke="none" opacity="0.8"/>
<path d="M520,1827 L547,1838 L563,1831 L588,1845 L597,1851" fill="none" stroke="#2a2a8c" stroke-width="1.8" stroke-linecap="round" stroke-linejoin="round" opacity="1.0"/>
<path d="M563,1800 L563,1832" fill="none" stroke="#3c5cc0" stroke-width="1.8" stroke-linecap="round" stroke-linejoin="round" opacity="1.0"/>
<path d="M597,1851 L620,1815 L640,1808 L675,1814 L700,1800 L730,1808" fill="none" stroke="#2a2a8c" stroke-width="1.8" stroke-linecap="round" stroke-linejoin="round" opacity="1.0"/>
<path d="M730,1808 L730,1795 L723,1775" fill="none" stroke="#2a2a8c" stroke-width="1.8" stroke-linecap="round" stroke-linejoin="round" opacity="1.0"/>
<path d="M597,1851 L596,1875 L608,1885 L620,1880 L630,1890 L640,1880" fill="none" stroke="#2a2a8c" stroke-width="1.8" stroke-linecap="round" stroke-linejoin="round" opacity="1.0"/>
<path d="M520,1895 L540,1915 L558,1925 L570,1915 L590,1905 L612,1905" fill="none" stroke="#2a2a8c" stroke-width="1.8" stroke-linecap="round" stroke-linejoin="round" opacity="1.0"/>
<path d="M612,1905 L632,1895 L650,1905 L660,1920 L672,1908 L690,1900" fill="none" stroke="#2a2a8c" stroke-width="1.8" stroke-linecap="round" stroke-linejoin="round" opacity="1.0"/>
<path d="M610,1920 L620,1915 L640,1930" fill="none" stroke="#3c5cc0" stroke-width="1.8" stroke-linecap="round" stroke-linejoin="round" opacity="1.0"/>
<path d="M690,1875 L725,1858 L735,1885 L735,1920 L730,1950 L720,1970 L700,1985" fill="none" stroke="#2a2a8c" stroke-width="1.8" stroke-linecap="round" stroke-linejoin="round" opacity="1.0"/>
<path d="M700,1985 L680,2000 L650,2010" fill="none" stroke="#2a2a8c" stroke-width="1.8" stroke-linecap="round" stroke-linejoin="round" opacity="1.0"/>
<path d="M735,1940 L750,1950" fill="none" stroke="#2a2a8c" stroke-width="1.8" stroke-linecap="round" stroke-linejoin="round" opacity="1.0"/>
<path d="M650,1860 L670,1875 L680,1870 L690,1850 L710,1845 L735,1840 L737,1825" fill="none" stroke="#2ab0c0" stroke-width="1.8" stroke-linecap="round" stroke-linejoin="round" opacity="1.0"/>
<path d="M686,1875 L680,1890 L678,1930 L676,1960 L672,1990" fill="none" stroke="#2ab0c0" stroke-width="1.8" stroke-linecap="round" stroke-linejoin="round" opacity="1.0"/>
<path d="M676,1960 L690,1972 L710,1968" fill="none" stroke="#2ab0c0" stroke-width="1.8" stroke-linecap="round" stroke-linejoin="round" opacity="1.0"/>
<path d="M672,1990 L650,2005 L640,2005 L620,2010 L600,2020 L590,2030" fill="none" stroke="#2ab0c0" stroke-width="1.8" stroke-linecap="round" stroke-linejoin="round" opacity="1.0"/>
<path d="M570,2000 L598,2020 L620,2035 L650,2050" fill="none" stroke="#2a2a8c" stroke-width="1.8" stroke-linecap="round" stroke-linejoin="round" opacity="1.0"/>
<path d="M600,2020 L620,2005 L630,2015" fill="none" stroke="#2a2a8c" stroke-width="1.8" stroke-linecap="round" stroke-linejoin="round" opacity="1.0"/>
<path d="M620,2035 L625,2050 L625,2060" fill="none" stroke="#2a2a8c" stroke-width="1.8" stroke-linecap="round" stroke-linejoin="round" opacity="1.0"/>
<path d="M625,2050 L627,2068" fill="none" stroke="#c03a3a" stroke-width="1.8" stroke-linecap="round" stroke-linejoin="round" opacity="1.0"/>
<path d="M690,1960 L700,1990 L705,2030 L712,2040 L718,2060 L705,2080 L708,2100 L700,2120" fill="none" stroke="#2ab0c0" stroke-width="1.8" stroke-linecap="round" stroke-linejoin="round" opacity="1.0"/>
<path d="M700,2120 L725,2118 L745,2125 L765,2120 L790,2130 L800,2140 L810,2160" fill="none" stroke="#2ab0c0" stroke-width="1.8" stroke-linecap="round" stroke-linejoin="round" opacity="1.0"/>
<path d="M700,2120 L700,2140 L690,2160 L683,2180 L670,2185" fill="none" stroke="#2ab0c0" stroke-width="1.8" stroke-linecap="round" stroke-linejoin="round" opacity="1.0"/>
<path d="M690,2090 L700,2105 L705,2120 L700,2140 L697,2160 L705,2180" fill="none" stroke="#c03a3a" stroke-width="1.8" stroke-linecap="round" stroke-linejoin="round" opacity="1.0"/>
<path d="M662,2105 L692,2105" fill="none" stroke="#c03a3a" stroke-width="1.8" stroke-linecap="round" stroke-linejoin="round" opacity="1.0"/>
<path d="M700,2090 L708,2080" fill="none" stroke="#c03a3a" stroke-width="1.8" stroke-linecap="round" stroke-linejoin="round" opacity="1.0"/>
<path d="M790,1895 L800,1885 L815,1880 L820,1870" fill="none" stroke="#2e9e3e" stroke-width="1.8" stroke-linecap="round" stroke-linejoin="round" opacity="1.0"/>
<path d="M825,1905 L835,1900 L855,1895 L880,1880 L895,1868 L905,1855" fill="none" stroke="#2e9e3e" stroke-width="1.8" stroke-linecap="round" stroke-linejoin="round" opacity="1.0"/>
<path d="M905,1855 L908,1838 L920,1828 L935,1830" fill="none" stroke="#2e9e3e" stroke-width="1.8" stroke-linecap="round" stroke-linejoin="round" opacity="1.0"/>
<path d="M905,1855 L920,1862" fill="none" stroke="#2e9e3e" stroke-width="1.8" stroke-linecap="round" stroke-linejoin="round" opacity="1.0"/>
<path d="M935,1830 L948,1830" fill="none" stroke="#c03a3a" stroke-width="1.8" stroke-linecap="round" stroke-linejoin="round" opacity="1.0"/>
<path d="M895,1868 L905,1880 L908,1900" fill="none" stroke="#2e9e3e" stroke-width="1.8" stroke-linecap="round" stroke-linejoin="round" opacity="1.0"/>
<path d="M900,1850 L893,1843" fill="none" stroke="#2a2a8c" stroke-width="1.8" stroke-linecap="round" stroke-linejoin="round" opacity="1.0"/>
<path d="M880,1880 L890,1905" fill="none" stroke="#2e9e3e" stroke-width="1.8" stroke-linecap="round" stroke-linejoin="round" opacity="1.0"/>
<path d="M920,1930 L935,1925 L950,1930" fill="none" stroke="#2e9e3e" stroke-width="1.8" stroke-linecap="round" stroke-linejoin="round" opacity="1.0"/>
<path d="M935,1925 L932,1950 L920,1970 L905,1990" fill="none" stroke="#2e9e3e" stroke-width="1.8" stroke-linecap="round" stroke-linejoin="round" opacity="1.0"/>
<path d="M905,1990 L915,2010 L935,2025 L950,2030" fill="none" stroke="#2e9e3e" stroke-width="1.8" stroke-linecap="round" stroke-linejoin="round" opacity="1.0"/>
<path d="M820,1990 L830,2025 L845,2045 L880,2045 L895,2040 L900,2050" fill="none" stroke="#2e9e3e" stroke-width="1.8" stroke-linecap="round" stroke-linejoin="round" opacity="1.0"/>
<path d="M845,2045 L870,2030 L880,2035" fill="none" stroke="#2a2a8c" stroke-width="1.8" stroke-linecap="round" stroke-linejoin="round" opacity="1.0"/>
<path d="M895,2040 L905,2030 L920,2025 L945,2030 L955,2040" fill="none" stroke="#2e9e3e" stroke-width="1.8" stroke-linecap="round" stroke-linejoin="round" opacity="1.0"/>
<path d="M915,2010 L905,2020 L900,2045" fill="none" stroke="#2e9e3e" stroke-width="1.8" stroke-linecap="round" stroke-linejoin="round" opacity="1.0"/>
<path d="M880,2045 L880,2060" fill="none" stroke="#c03a3a" stroke-width="1.8" stroke-linecap="round" stroke-linejoin="round" opacity="1.0"/>
<path d="M770,2130 L800,2115 L820,2110 L835,2100 L850,2090 L860,2085 L870,2090" fill="none" stroke="#2a9a90" stroke-width="1.8" stroke-linecap="round" stroke-linejoin="round" opacity="1.0"/>
<path d="M835,2100 L840,2120 L850,2140 L870,2150 L890,2160 L900,2180" fill="none" stroke="#2a9a90" stroke-width="1.8" stroke-linecap="round" stroke-linejoin="round" opacity="1.0"/>
<path d="M850,2090 L860,2080 L865,2075" fill="none" stroke="#2a9a90" stroke-width="1.8" stroke-linecap="round" stroke-linejoin="round" opacity="1.0"/>
<path d="M870,2090 L890,2095" fill="none" stroke="#c03a3a" stroke-width="1.8" stroke-linecap="round" stroke-linejoin="round" opacity="1.0"/>
<path d="M900,2140 L920,2130 L945,2135 L955,2150 L940,2160 L915,2158 Z" fill="none" stroke="#2a9a90" stroke-width="1.8" stroke-linecap="round" stroke-linejoin="round" opacity="1.0"/>
<path d="M920,2130 L925,2120" fill="none" stroke="#2a9a90" stroke-width="1.8" stroke-linecap="round" stroke-linejoin="round" opacity="1.0"/>
<path d="M870,2189 L890,2170 L905,2175 L925,2170" fill="none" stroke="#2ab0c0" stroke-width="1.8" stroke-linecap="round" stroke-linejoin="round" opacity="1.0"/>
<path d="M935,2160 L945,2180" fill="none" stroke="#c03a3a" stroke-width="1.8" stroke-linecap="round" stroke-linejoin="round" opacity="1.0"/>
<path d="M760,1885 L775,1875 L785,1865 L790,1850" fill="none" stroke="#2ab0c0" stroke-width="1.8" stroke-linecap="round" stroke-linejoin="round" opacity="1.0"/>
<path d="M790,1850 L795,1842" fill="none" stroke="#c03a3a" stroke-width="1.8" stroke-linecap="round" stroke-linejoin="round" opacity="1.0"/>
<path d="M655,1875 L685,1870" fill="none" stroke="#e8e040" stroke-width="2.5" stroke-linecap="round" stroke-linejoin="round" opacity="1.0" stroke-dasharray="4 3"/>
<path d="M705,1867 L738,1835" fill="none" stroke="#e8e040" stroke-width="2.5" stroke-linecap="round" stroke-linejoin="round" opacity="1.0" stroke-dasharray="4 3"/>
<path d="M683,2005 L685,2040" fill="none" stroke="#d8c830" stroke-width="2.5" stroke-linecap="round" stroke-linejoin="round" opacity="1.0" stroke-dasharray="4 3"/>
<path d="M868,1996 L890,1995" fill="none" stroke="#e8e040" stroke-width="2.5" stroke-linecap="round" stroke-linejoin="round" opacity="1.0" stroke-dasharray="4 3"/>
<path d="M663,1876 L765,1922" fill="none" stroke="#8a8a8a" stroke-width="9" stroke-linecap="round" stroke-linejoin="round" opacity="1.0"/>
<path d="M763,1923 L780,1907 L801.4,1914.3 L804.3,1950 L785.7,1965.7 L762.9,1954.3 Z" fill="none" stroke="#8a8a8a" stroke-width="9" stroke-linecap="round" stroke-linejoin="round" opacity="1.0"/>
<path d="M801.4,1914.3 L815.7,1900 L842.9,1911.4 L850,1945.7 L830,1958.6 L804.3,1950" fill="none" stroke="#8a8a8a" stroke-width="9" stroke-linecap="round" stroke-linejoin="round" opacity="1.0"/>
<path d="M842.9,1911.4 L864,1887 L851,1868" fill="none" stroke="#8a8a8a" stroke-width="9" stroke-linecap="round" stroke-linejoin="round" opacity="1.0"/>
<path d="M785.7,1965.7 L788.6,2001" fill="none" stroke="#8a8a8a" stroke-width="9" stroke-linecap="round" stroke-linejoin="round" opacity="1.0"/>
<path d="M830,1958.6 L831.4,1997 L857,2001" fill="none" stroke="#8a8a8a" stroke-width="9" stroke-linecap="round" stroke-linejoin="round" opacity="1.0"/>
<path d="M762.9,1954.3 L748,1968 L746,1988" fill="none" stroke="#8a8a8a" stroke-width="9" stroke-linecap="round" stroke-linejoin="round" opacity="1.0"/>
<path d="M668,2000 L750,2003" fill="none" stroke="#8a8a8a" stroke-width="9" stroke-linecap="round" stroke-linejoin="round" opacity="1.0"/>
<path d="M672,2027 L746,2029" fill="none" stroke="#8a8a8a" stroke-width="9" stroke-linecap="round" stroke-linejoin="round" opacity="1.0"/>
<path d="M688,1966 L688,2028" fill="none" stroke="#8a8a8a" stroke-width="9" stroke-linecap="round" stroke-linejoin="round" opacity="1.0"/>
<path d="M708,1975 L708,2015" fill="none" stroke="#8a8a8a" stroke-width="9" stroke-linecap="round" stroke-linejoin="round" opacity="1.0"/>
<path d="M727,1978 L727,2010" fill="none" stroke="#8a8a8a" stroke-width="9" stroke-linecap="round" stroke-linejoin="round" opacity="1.0"/>
<path d="M746,1985 L746,2030" fill="none" stroke="#8a8a8a" stroke-width="9" stroke-linecap="round" stroke-linejoin="round" opacity="1.0"/>
<path d="M700,2038 L712,2034" fill="none" stroke="#8a8a8a" stroke-width="9" stroke-linecap="round" stroke-linejoin="round" opacity="1.0"/>
<path d="M663,1876 L765,1922" fill="none" stroke="#e4e4e4" stroke-width="6" stroke-linecap="round" stroke-linejoin="round" opacity="1.0"/>
<path d="M763,1923 L780,1907 L801.4,1914.3 L804.3,1950 L785.7,1965.7 L762.9,1954.3 Z" fill="none" stroke="#e4e4e4" stroke-width="6" stroke-linecap="round" stroke-linejoin="round" opacity="1.0"/>
<path d="M801.4,1914.3 L815.7,1900 L842.9,1911.4 L850,1945.7 L830,1958.6 L804.3,1950" fill="none" stroke="#e4e4e4" stroke-width="6" stroke-linecap="round" stroke-linejoin="round" opacity="1.0"/>
<path d="M842.9,1911.4 L864,1887 L851,1868" fill="none" stroke="#e4e4e4" stroke-width="6" stroke-linecap="round" stroke-linejoin="round" opacity="1.0"/>
<path d="M785.7,1965.7 L788.6,2001" fill="none" stroke="#e4e4e4" stroke-width="6" stroke-linecap="round" stroke-linejoin="round" opacity="1.0"/>
<path d="M830,1958.6 L831.4,1997 L857,2001" fill="none" stroke="#e4e4e4" stroke-width="6" stroke-linecap="round" stroke-linejoin="round" opacity="1.0"/>
<path d="M762.9,1954.3 L748,1968 L746,1988" fill="none" stroke="#e4e4e4" stroke-width="6" stroke-linecap="round" stroke-linejoin="round" opacity="1.0"/>
<path d="M668,2000 L750,2003" fill="none" stroke="#e4e4e4" stroke-width="6" stroke-linecap="round" stroke-linejoin="round" opacity="1.0"/>
<path d="M672,2027 L746,2029" fill="none" stroke="#e4e4e4" stroke-width="6" stroke-linecap="round" stroke-linejoin="round" opacity="1.0"/>
<path d="M688,1966 L688,2028" fill="none" stroke="#e4e4e4" stroke-width="6" stroke-linecap="round" stroke-linejoin="round" opacity="1.0"/>
<path d="M708,1975 L708,2015" fill="none" stroke="#e4e4e4" stroke-width="6" stroke-linecap="round" stroke-linejoin="round" opacity="1.0"/>
<path d="M727,1978 L727,2010" fill="none" stroke="#e4e4e4" stroke-width="6" stroke-linecap="round" stroke-linejoin="round" opacity="1.0"/>
<path d="M746,1985 L746,2030" fill="none" stroke="#e4e4e4" stroke-width="6" stroke-linecap="round" stroke-linejoin="round" opacity="1.0"/>
<path d="M700,2038 L712,2034" fill="none" stroke="#e4e4e4" stroke-width="6" stroke-linecap="round" stroke-linejoin="round" opacity="1.0"/>
<path d="M785.7,1980 L788.6,2001" fill="none" stroke="#b04646" stroke-width="7" stroke-linecap="round" stroke-linejoin="round" opacity="1.0"/>
<path d="M831,1978 L831.4,1995" fill="none" stroke="#b04646" stroke-width="7" stroke-linecap="round" stroke-linejoin="round" opacity="1.0"/>
<path d="M754,1962 L748,1970" fill="none" stroke="#b04646" stroke-width="7" stroke-linecap="round" stroke-linejoin="round" opacity="1.0"/>
<path d="M688,1966 L688,1980" fill="none" stroke="#b04646" stroke-width="7" stroke-linecap="round" stroke-linejoin="round" opacity="1.0"/>
<path d="M708,1975 L708,1986" fill="none" stroke="#b04646" stroke-width="7" stroke-linecap="round" stroke-linejoin="round" opacity="1.0"/>
<path d="M746,1972 L746,1984" fill="none" stroke="#b04646" stroke-width="7" stroke-linecap="round" stroke-linejoin="round" opacity="1.0"/>
<path d="M668,2000 L680,2004" fill="none" stroke="#b04646" stroke-width="7" stroke-linecap="round" stroke-linejoin="round" opacity="1.0"/>
<path d="M742,2022 L746,2030" fill="none" stroke="#b04646" stroke-width="7" stroke-linecap="round" stroke-linejoin="round" opacity="1.0"/>
<path d="M864,1887 L858,1878" fill="none" stroke="#b04646" stroke-width="7" stroke-linecap="round" stroke-linejoin="round" opacity="1.0"/>
<path d="M780,1907 L786,1912" fill="none" stroke="#b04646" stroke-width="7" stroke-linecap="round" stroke-linejoin="round" opacity="1.0"/>
<path d="M681,1874 L695,1878" fill="none" stroke="#b04646" stroke-width="7" stroke-linecap="round" stroke-linejoin="round" opacity="1.0"/>
<path d="M712,2026 L718,2028" fill="none" stroke="#b04646" stroke-width="7" stroke-linecap="round" stroke-linejoin="round" opacity="1.0"/>
<text x="571.0" y="1813.0" font-size="12.6" text-anchor="start" fill="#4a4a4a" stroke="#4a4a4a" stroke-width="0.3">LYS-45</text>
<text x="744.0" y="1791.5" font-size="12.6" text-anchor="start" fill="#4a4a4a" stroke="#4a4a4a" stroke-width="0.3">ILE-94</text>
<text x="782.0" y="1814.7" font-size="12.6" text-anchor="start" fill="#4a4a4a" stroke="#4a4a4a" stroke-width="0.3">TYR-27</text>
<text x="866.0" y="1796.0" font-size="12.6" text-anchor="start" fill="#4a4a4a" stroke="#4a4a4a" stroke-width="0.3">ASP-158</text>
<text x="549.6" y="1860.0" font-size="12.6" text-anchor="start" fill="#4a4a4a" stroke="#4a4a4a" stroke-width="0.3">ILE-44</text>
<text x="624.6" y="1866.5" font-size="12.6" text-anchor="start" fill="#4a4a4a" stroke="#4a4a4a" stroke-width="0.3">VAL-30</text>
<text x="742.5" y="1866.5" font-size="12.6" text-anchor="start" fill="#4a4a4a" stroke="#4a4a4a" stroke-width="0.3">GLN-96</text>
<text x="526.4" y="1880.8" font-size="12.6" text-anchor="start" fill="#4a4a4a" stroke="#4a4a4a" stroke-width="0.3">CYS-31</text>
<text x="758.6" y="1889.7" font-size="12.6" text-anchor="start" fill="#4a4a4a" stroke="#4a4a4a" stroke-width="0.3">ILE-75</text>
<text x="912.0" y="1898.6" font-size="12.6" text-anchor="start" fill="#4a4a4a" stroke="#4a4a4a" stroke-width="0.3">CYS-157</text>
<text x="855.0" y="1927.0" font-size="12.6" text-anchor="start" fill="#4a4a4a" stroke="#4a4a4a" stroke-width="0.3">LEU-146</text>
<text x="606.8" y="1952.0" font-size="12.6" text-anchor="start" fill="#4a4a4a" stroke="#4a4a4a" stroke-width="0.3">ALA-43</text>
<text x="848.0" y="1971.0" font-size="12.6" text-anchor="start" fill="#4a4a4a" stroke="#4a4a4a" stroke-width="0.3">ASN-145</text>
<text x="762.0" y="2025.4" font-size="12.6" text-anchor="start" fill="#4a4a4a" stroke="#4a4a4a" stroke-width="0.3">GLU-24</text>
<text x="631.8" y="2038.0" font-size="12.6" text-anchor="start" fill="#4a4a4a" stroke="#4a4a4a" stroke-width="0.3">ASP-97</text>
<text x="776.4" y="2045.0" font-size="12.6" text-anchor="start" fill="#4a4a4a" stroke="#4a4a4a" stroke-width="0.3">LEU-147</text>
<text x="567.5" y="2049.7" font-size="12.6" text-anchor="start" fill="#4a4a4a" stroke="#4a4a4a" stroke-width="0.3">LEU-98</text>
<text x="630.0" y="2059.4" font-size="12.6" text-anchor="start" fill="#4a4a4a" stroke="#4a4a4a" stroke-width="0.3">MET-99</text>
<text x="583.6" y="2066.5" font-size="12.6" text-anchor="start" fill="#4a4a4a" stroke="#4a4a4a" stroke-width="0.3">ILE-22</text>
<text x="717.5" y="2064.0" font-size="12.6" text-anchor="start" fill="#4a4a4a" stroke="#4a4a4a" stroke-width="0.3">GLU-100</text>
<text x="896.0" y="2066.5" font-size="12.6" text-anchor="start" fill="#4a4a4a" stroke="#4a4a4a" stroke-width="0.3">SER-144</text>
<text x="717.5" y="2083.6" font-size="12.6" text-anchor="start" fill="#4a4a4a" stroke="#4a4a4a" stroke-width="0.3">THR-101</text>
<text x="889.0" y="2088.0" font-size="12.6" text-anchor="start" fill="#4a4a4a" stroke="#4a4a4a" stroke-width="0.3">TYR-104</text>
<text x="612.0" y="2098.0" font-size="12.6" text-anchor="start" fill="#4a4a4a" stroke="#4a4a4a" stroke-width="0.3">LYS-105</text>
<text x="706.8" y="2151.5" font-size="12.6" text-anchor="start" fill="#4a4a4a" stroke="#4a4a4a" stroke-width="0.3">ASP-102</text>
<text x="708.6" y="2177.0" font-size="12.6" text-anchor="start" fill="#4a4a4a" stroke="#4a4a4a" stroke-width="0.3">GLU-360</text>
</g>
<text x="730.0" y="2048.0" font-size="23.6" text-anchor="start" font-weight="bold" fill="#111">Hyp</text>
<rect x="506.2" y="1744.7" width="549" height="461.3" fill="none" stroke="#c4141e" stroke-width="5.5"/>
<text x="19.0" y="44.0" font-size="32" text-anchor="start" font-weight="bold" fill="#111">A</text>
<text x="443.5" y="661.0" font-size="32" text-anchor="start" font-weight="bold" fill="#111">B</text>
<text x="907.0" y="661.0" font-size="32" text-anchor="start" font-weight="bold" fill="#111">C</text>
<text x="18.5" y="1203.3" font-size="37" text-anchor="start" font-weight="bold" fill="#111">D</text>
<text x="21.5" y="1743.3" font-size="36" text-anchor="start" font-weight="bold" fill="#111" textLength="17.5" lengthAdjust="spacingAndGlyphs">E</text>
<text x="1163.5" y="1738.8" font-size="34" text-anchor="start" font-weight="bold" fill="#111" textLength="17" lengthAdjust="spacingAndGlyphs">F</text>
</g>
</svg>
</body></html>
